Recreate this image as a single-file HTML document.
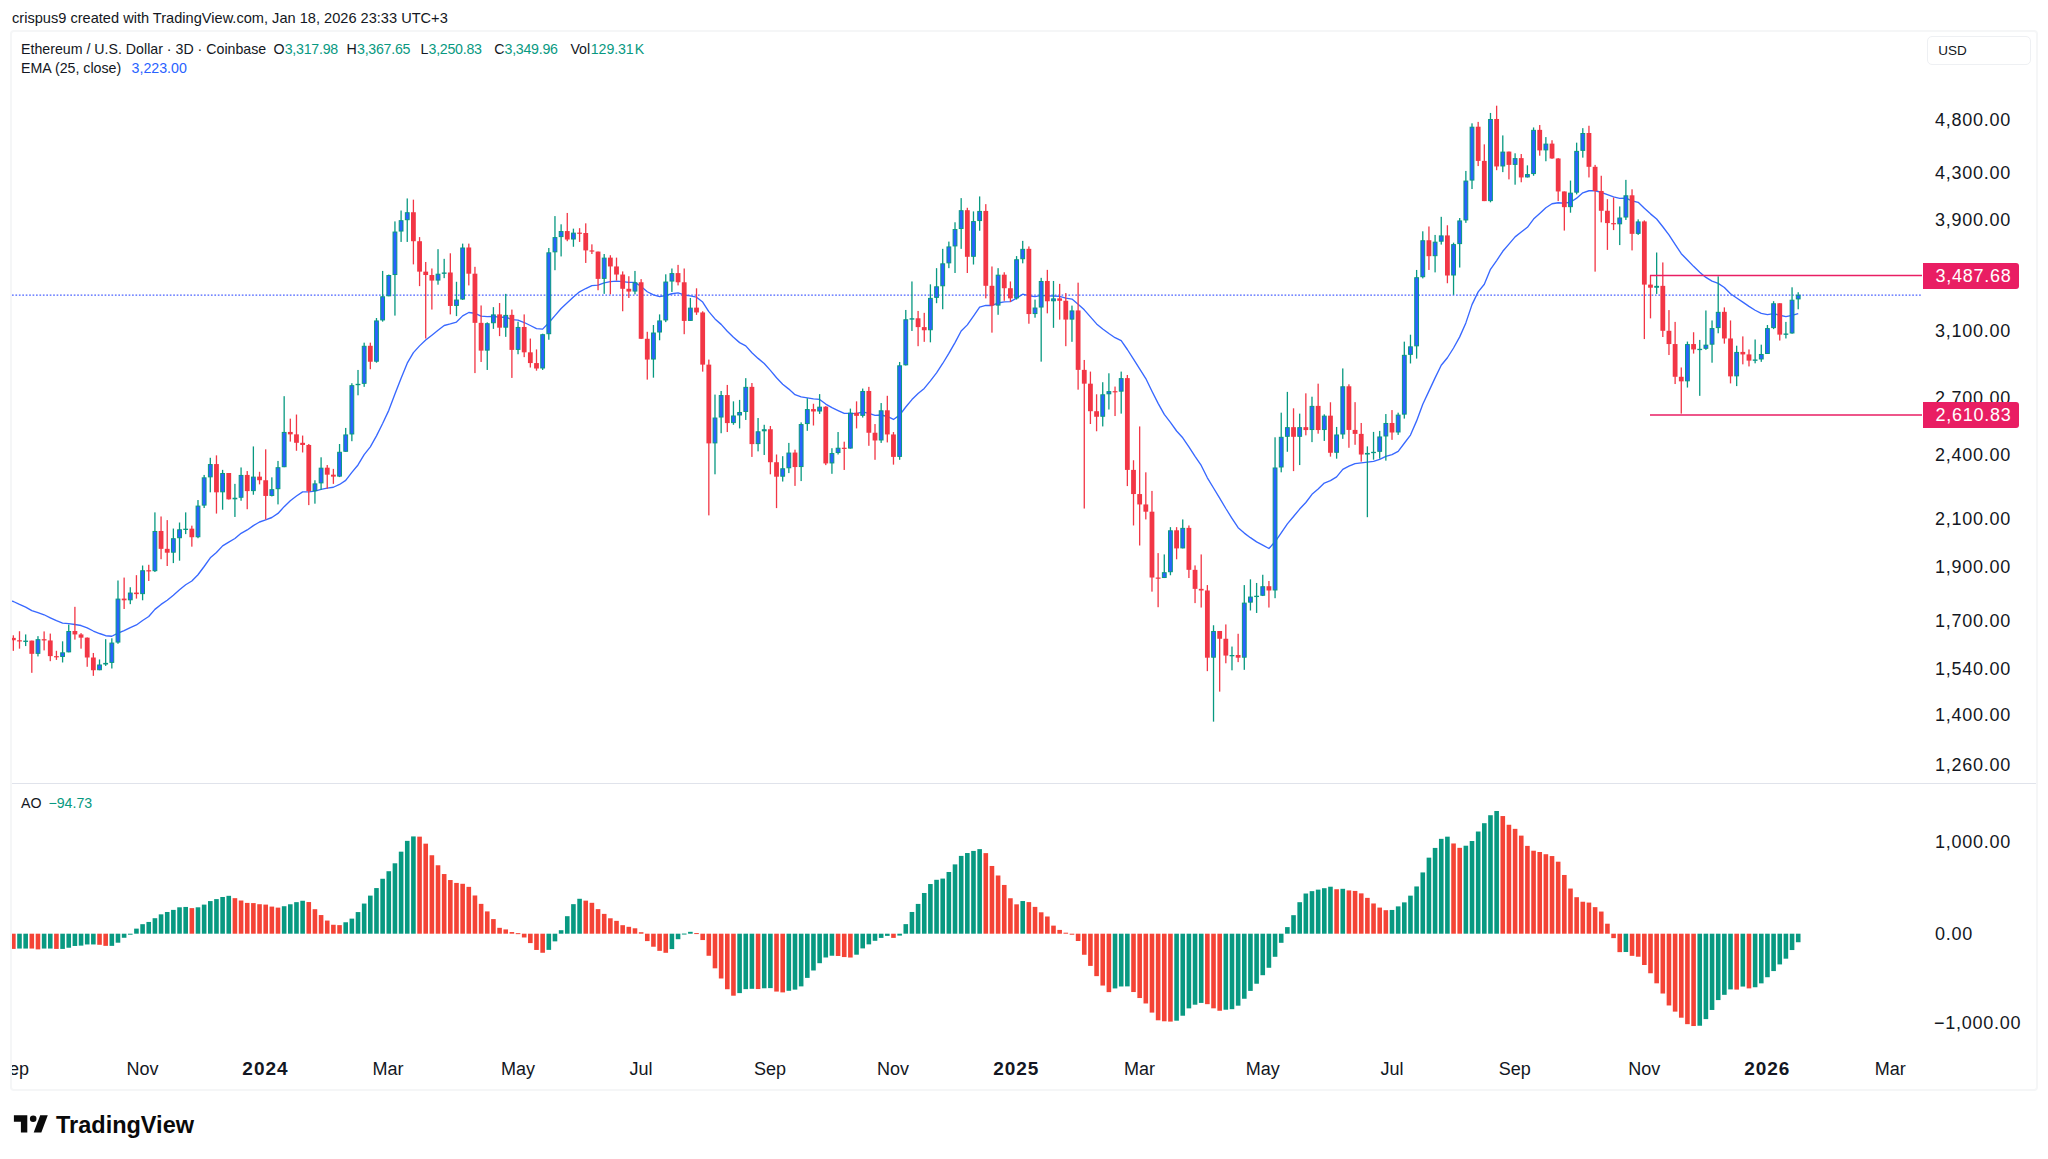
<!DOCTYPE html>
<html><head><meta charset="utf-8">
<style>
html,body{margin:0;padding:0;background:#fff;}
body{width:2048px;height:1159px;overflow:hidden;position:relative;font-family:"Liberation Sans",sans-serif;color:#131722;}
.a{position:absolute;white-space:nowrap;}
.hdr{left:12px;top:9px;font-size:14.6px;line-height:18px;color:#131722;}
.frame{left:10px;top:29.8px;width:2023.5px;height:1057px;border:2px solid #f5f6f7;border-radius:4px;box-sizing:content-box;}
.leg{left:21px;font-size:14.2px;line-height:18px;color:#131722;}
.leg .g{color:#089981;}
.leg .b{color:#2962FF;}
.usd{left:1927px;top:36.3px;width:104px;height:29px;border:1px solid #eef0f3;border-radius:5px;box-sizing:border-box;font-size:13.5px;line-height:27px;padding-left:10.3px;color:#131722;}
.pl{left:1935px;font-size:18px;line-height:20px;letter-spacing:0.75px;color:#131722;}
.tl{font-size:18px;line-height:20px;top:1059.4px;color:#131722;transform:translateX(-50%);}
.tl.y{font-weight:bold;font-size:19px;letter-spacing:1px;}
.lbl{left:1923px;width:96px;height:26px;background:#E91E63;color:#fff;border-radius:0 3px 3px 0;font-size:18px;line-height:26px;letter-spacing:0.75px;padding-left:12.5px;box-sizing:border-box;}
.sep{left:12px;top:782.7px;width:2024px;height:1px;background:#e0e3eb;}
.tclip{left:12px;top:1050px;width:1910px;height:36px;overflow:hidden;}
</style></head>
<body>
<div class="a hdr">crispus9 created with TradingView.com, Jan 18, 2026 23:33 UTC+3</div>
<div class="a frame"></div>

<svg class="a" style="left:0;top:0" width="2048" height="1159" viewBox="0 0 2048 1159">
<defs>
<clipPath id="cm"><rect x="12" y="32" width="1910" height="751"/></clipPath>
<clipPath id="ca"><rect x="12" y="785" width="1910" height="265"/></clipPath>
</defs>
<g clip-path="url(#cm)">
<line x1="12" y1="295.1" x2="1921" y2="295.1" stroke="#4a62ff" stroke-width="1.3" stroke-dasharray="1.7 1.73"/>
<polyline points="11,600.8 13.35,601.5 19.5,604.42 25.66,607.11 31.81,610.55 37.97,612.69 44.12,614.77 50.28,617.83 56.43,620.73 62.59,623.09 68.74,623.69 74.9,624.51 81.05,625.51 87.21,627.89 93.36,631.02 99.52,633.51 105.67,635.71 111.83,636.24 117.98,633.23 124.13,630.62 130.29,627.58 136.44,624.93 142.6,620.49 148.75,616.51 154.91,609.37 161.06,604.43 167.22,600.25 173.37,595.18 179.53,589.78 185.68,584.79 191.84,580.97 197.99,574.73 204.15,566.5 210.3,557.8 216.46,552.44 222.61,545.84 228.76,542.1 234.92,538.54 241.07,533.33 247.23,529.95 253.38,525.63 259.54,521.99 265.69,519.93 271.85,517.5 278,513.43 284.16,506.65 290.31,500.69 296.47,495.98 302.62,491.86 308.78,491.8 314.93,491.15 321.09,489.3 327.24,488.16 333.39,487.26 339.55,484.44 345.7,480.41 351.86,472.37 358.01,464.96 364.17,454.67 370.32,446.85 376.48,435.86 382.63,423.56 388.79,410.36 394.94,393.99 401.1,378.16 407.25,363.16 413.41,352.6 419.56,345.87 425.71,340.04 431.87,335.19 438.02,330.17 444.18,325.48 450.33,323.95 456.49,322.03 462.64,315.87 468.8,312.49 474.95,313.28 481.11,316.05 487.26,316.6 493.42,316.43 499.57,317.28 505.73,317.1 511.88,319.55 518.04,320.11 524.19,322.51 530.34,325.51 536.5,328.69 542.65,329.11 548.81,322.75 554.96,315.59 561.12,308.54 567.27,302.86 573.43,297.08 579.58,291.84 585.74,288.52 591.89,285.58 598.05,285.06 604.2,282.89 610.36,281.61 616.51,281.06 622.67,281.65 628.82,282.41 634.97,282.4 641.13,286.51 647.28,291.75 653.44,294.77 659.59,296.69 665.75,295.51 671.9,293.75 678.06,292.86 684.21,294.96 690.37,295.92 696.52,297.17 702.68,302.04 708.83,311.56 714.99,318.93 721.14,324.38 727.3,331.3 733.45,337.28 739.6,342.63 745.76,345.89 751.91,352.78 758.07,358.38 764.22,363.48 770.38,370.4 776.53,377.79 782.69,384.18 788.84,389.11 795,394.68 801.15,396.88 807.31,397.8 813.46,398.84 819.62,399.44 825.77,404.07 831.93,407.67 838.08,410.63 844.23,413.45 850.39,413.39 856.54,413.58 862.7,411.8 868.85,413.38 875.01,415.41 881.16,415.02 887.32,416.48 893.47,419.48 899.63,415.09 905.78,407 911.94,399.57 918.09,393.59 924.25,388.41 930.4,380.81 936.56,372.84 942.71,363.48 948.86,353.39 955.02,342.6 961.17,331.02 967.33,324.89 973.48,316.06 979.64,307.11 985.79,305.43 991.95,305.45 998.1,303.01 1004.26,301.85 1010.41,301.58 1016.57,298.19 1022.72,294.21 1028.88,295.71 1035.03,296.61 1041.18,295.39 1047.34,295.84 1053.49,296.03 1059.65,296.39 1065.8,298.14 1071.96,299.07 1078.11,304.17 1084.27,309.84 1090.42,316.92 1096.58,323.91 1102.73,328.97 1108.89,333.48 1115.04,337.72 1121.2,340.71 1127.35,349.51 1133.51,359.21 1139.66,368.95 1145.81,378.55 1151.97,391.26 1158.12,403.32 1164.28,414.41 1170.43,422.4 1176.59,431.01 1182.74,437.8 1188.9,446.77 1195.05,456.33 1201.21,465.43 1207.36,477.78 1213.52,487.99 1219.67,498.05 1225.83,508.5 1231.98,518.32 1238.14,527.72 1244.29,533.09 1250.44,537.68 1256.6,541.91 1262.75,545.18 1268.91,548.52 1275.06,541.78 1281.22,532.84 1287.37,523.83 1293.53,516.55 1299.68,509.06 1305.84,502.5 1311.99,494.34 1318.15,489.08 1324.3,483.02 1330.46,480.62 1336.61,476.91 1342.77,469.3 1348.92,466.16 1355.07,463.6 1361.23,462.89 1367.38,462.12 1373.54,461.32 1379.69,459.36 1385.85,456.46 1392,454.58 1398.16,451.38 1404.31,443.23 1410.47,435.05 1416.62,420.89 1422.78,404.32 1428.93,391.16 1435.09,377.87 1441.24,365.29 1447.4,357.76 1453.55,348 1459.7,336.89 1465.86,322.9 1472.01,304.62 1478.17,291.91 1484.32,284.29 1490.48,269.36 1496.63,260.61 1502.79,251.29 1508.94,244.07 1515.1,236.88 1521.25,232.04 1527.41,227.33 1533.56,219.09 1539.72,213.44 1545.87,207.7 1552.02,203.73 1558.18,202.77 1564.33,203.11 1570.49,202.29 1576.64,198.14 1582.8,192.8 1588.95,190.75 1595.11,190.77 1601.26,192.28 1607.42,194.58 1613.57,196.8 1619.73,198.37 1625.88,198.13 1632.04,200.79 1638.19,202.34 1644.35,208.2 1650.5,213.87 1656.65,219.04 1662.81,226.77 1668.96,234.85 1675.12,244.4 1681.27,253.66 1687.43,260.04 1693.58,266.36 1699.74,272.23 1705.89,277.43 1712.05,281.14 1718.2,283.44 1724.36,287.45 1730.51,293.74 1736.67,297.97 1742.82,302.09 1748.98,306.35 1755.13,310.23 1761.28,313.46 1767.44,314.57 1773.59,313.69 1779.75,315.27 1785.9,316.65 1792.06,315.32 1798.21,313.71" fill="none" stroke="#3868ff" stroke-width="1.35" stroke-linejoin="round"/>
<rect x="12.7" y="635.29" width="1.3" height="15.53" fill="#F23645"/>
<rect x="10.95" y="637.88" width="4.8" height="2.37" fill="#F23645"/>
<rect x="18.85" y="631.24" width="1.3" height="17.43" fill="#F23645"/>
<rect x="17.1" y="640.25" width="4.8" height="1.2" fill="#F23645"/>
<rect x="25.01" y="634.43" width="1.3" height="11.65" fill="#089981"/>
<rect x="23.76" y="641.1" width="3.8" height="0.3" fill="#2962FF" stroke="#089981" stroke-width="1"/>
<rect x="31.16" y="640.6" width="1.3" height="32.22" fill="#F23645"/>
<rect x="29.41" y="640.6" width="4.8" height="13.24" fill="#F23645"/>
<rect x="37.32" y="636.15" width="1.3" height="20.27" fill="#089981"/>
<rect x="36.07" y="639.67" width="3.8" height="13.67" fill="#2962FF" stroke="#089981" stroke-width="1"/>
<rect x="43.47" y="631.41" width="1.3" height="18.98" fill="#F23645"/>
<rect x="41.72" y="639.17" width="4.8" height="1.29" fill="#F23645"/>
<rect x="49.63" y="633.57" width="1.3" height="27.61" fill="#F23645"/>
<rect x="47.88" y="640.47" width="4.8" height="15.66" fill="#F23645"/>
<rect x="55.78" y="650.82" width="1.3" height="9.06" fill="#F23645"/>
<rect x="54.03" y="656.13" width="4.8" height="1.2" fill="#F23645"/>
<rect x="61.94" y="641.33" width="1.3" height="21.14" fill="#089981"/>
<rect x="60.69" y="652.83" width="3.8" height="3.62" fill="#2962FF" stroke="#089981" stroke-width="1"/>
<rect x="68.09" y="624.51" width="1.3" height="27.82" fill="#089981"/>
<rect x="66.84" y="631.48" width="3.8" height="20.35" fill="#2962FF" stroke="#089981" stroke-width="1"/>
<rect x="74.25" y="606.82" width="1.3" height="32.78" fill="#F23645"/>
<rect x="72.5" y="630.98" width="4.8" height="3.45" fill="#F23645"/>
<rect x="80.4" y="633.13" width="1.3" height="15.53" fill="#F23645"/>
<rect x="78.65" y="634.43" width="4.8" height="3.24" fill="#F23645"/>
<rect x="86.56" y="637.45" width="1.3" height="29.33" fill="#F23645"/>
<rect x="84.81" y="637.66" width="4.8" height="19.84" fill="#F23645"/>
<rect x="92.71" y="652.98" width="1.3" height="22.86" fill="#F23645"/>
<rect x="90.96" y="657.51" width="4.8" height="12.72" fill="#F23645"/>
<rect x="98.87" y="659.45" width="1.3" height="10.78" fill="#089981"/>
<rect x="97.62" y="664.99" width="3.8" height="4.74" fill="#2962FF" stroke="#089981" stroke-width="1"/>
<rect x="105.02" y="639.17" width="1.3" height="26.74" fill="#089981"/>
<rect x="103.77" y="663.4" width="3.8" height="0.6" fill="#2962FF" stroke="#089981" stroke-width="1"/>
<rect x="111.18" y="638.31" width="1.3" height="30.19" fill="#089981"/>
<rect x="109.93" y="643.07" width="3.8" height="19.33" fill="#2962FF" stroke="#089981" stroke-width="1"/>
<rect x="117.33" y="580.48" width="1.3" height="63.29" fill="#089981"/>
<rect x="116.08" y="599.1" width="3.8" height="42.97" fill="#2962FF" stroke="#089981" stroke-width="1"/>
<rect x="123.48" y="577.58" width="1.3" height="31.4" fill="#F23645"/>
<rect x="121.73" y="598.6" width="4.8" height="1.69" fill="#F23645"/>
<rect x="129.64" y="587.25" width="1.3" height="16.91" fill="#089981"/>
<rect x="128.39" y="593.06" width="3.8" height="6.73" fill="#2962FF" stroke="#089981" stroke-width="1"/>
<rect x="135.79" y="575.17" width="1.3" height="23.43" fill="#F23645"/>
<rect x="134.04" y="592.56" width="4.8" height="1.57" fill="#F23645"/>
<rect x="141.95" y="565.51" width="1.3" height="34.78" fill="#089981"/>
<rect x="140.7" y="570.72" width="3.8" height="22.91" fill="#2962FF" stroke="#089981" stroke-width="1"/>
<rect x="148.1" y="564.78" width="1.3" height="16.18" fill="#F23645"/>
<rect x="146.35" y="570.22" width="4.8" height="1.2" fill="#F23645"/>
<rect x="154.26" y="512.37" width="1.3" height="59.66" fill="#089981"/>
<rect x="153.01" y="531.47" width="3.8" height="39.22" fill="#2962FF" stroke="#089981" stroke-width="1"/>
<rect x="160.41" y="516.47" width="1.3" height="42.75" fill="#F23645"/>
<rect x="158.66" y="530.97" width="4.8" height="17.87" fill="#F23645"/>
<rect x="166.57" y="520.1" width="1.3" height="45.89" fill="#F23645"/>
<rect x="164.82" y="548.84" width="4.8" height="3.86" fill="#F23645"/>
<rect x="172.72" y="528.55" width="1.3" height="34.54" fill="#089981"/>
<rect x="171.47" y="538.71" width="3.8" height="13.49" fill="#2962FF" stroke="#089981" stroke-width="1"/>
<rect x="178.88" y="522.51" width="1.3" height="38.16" fill="#089981"/>
<rect x="177.63" y="529.78" width="3.8" height="7.94" fill="#2962FF" stroke="#089981" stroke-width="1"/>
<rect x="185.03" y="512.37" width="1.3" height="21.74" fill="#089981"/>
<rect x="183.78" y="529.17" width="3.8" height="0.3" fill="#2962FF" stroke="#089981" stroke-width="1"/>
<rect x="191.19" y="525.65" width="1.3" height="21.01" fill="#F23645"/>
<rect x="189.44" y="528.67" width="4.8" height="8.57" fill="#F23645"/>
<rect x="197.34" y="500.05" width="1.3" height="38.16" fill="#089981"/>
<rect x="196.09" y="506.1" width="3.8" height="30.64" fill="#2962FF" stroke="#089981" stroke-width="1"/>
<rect x="203.5" y="474.93" width="1.3" height="33.09" fill="#089981"/>
<rect x="202.25" y="477.84" width="3.8" height="27.26" fill="#2962FF" stroke="#089981" stroke-width="1"/>
<rect x="209.65" y="457.78" width="1.3" height="34.54" fill="#089981"/>
<rect x="208.4" y="464.56" width="3.8" height="12.29" fill="#2962FF" stroke="#089981" stroke-width="1"/>
<rect x="215.81" y="455.36" width="1.3" height="58.21" fill="#F23645"/>
<rect x="214.06" y="464.06" width="4.8" height="28.26" fill="#F23645"/>
<rect x="221.96" y="469.86" width="1.3" height="39.86" fill="#089981"/>
<rect x="220.71" y="473.5" width="3.8" height="18.32" fill="#2962FF" stroke="#089981" stroke-width="1"/>
<rect x="228.11" y="473" width="1.3" height="26.57" fill="#F23645"/>
<rect x="226.36" y="473" width="4.8" height="26.33" fill="#F23645"/>
<rect x="234.27" y="483.86" width="1.3" height="33.09" fill="#089981"/>
<rect x="233.02" y="498.25" width="3.8" height="0.57" fill="#2962FF" stroke="#089981" stroke-width="1"/>
<rect x="240.42" y="467.44" width="1.3" height="33.33" fill="#089981"/>
<rect x="239.17" y="475.43" width="3.8" height="21.83" fill="#2962FF" stroke="#089981" stroke-width="1"/>
<rect x="246.58" y="471.06" width="1.3" height="38.16" fill="#F23645"/>
<rect x="244.83" y="474.93" width="4.8" height="16.18" fill="#F23645"/>
<rect x="252.73" y="446.43" width="1.3" height="48.31" fill="#089981"/>
<rect x="251.48" y="477.12" width="3.8" height="13.49" fill="#2962FF" stroke="#089981" stroke-width="1"/>
<rect x="258.89" y="471.79" width="1.3" height="12.56" fill="#F23645"/>
<rect x="257.14" y="476.62" width="4.8" height="3.62" fill="#F23645"/>
<rect x="265.04" y="449.32" width="1.3" height="70.29" fill="#F23645"/>
<rect x="263.29" y="480.24" width="4.8" height="15.7" fill="#F23645"/>
<rect x="271.2" y="477.34" width="1.3" height="19.08" fill="#089981"/>
<rect x="269.95" y="489.68" width="3.8" height="5.76" fill="#2962FF" stroke="#089981" stroke-width="1"/>
<rect x="277.35" y="460.92" width="1.3" height="43.48" fill="#089981"/>
<rect x="276.1" y="467.7" width="3.8" height="20.98" fill="#2962FF" stroke="#089981" stroke-width="1"/>
<rect x="283.51" y="396.18" width="1.3" height="71.01" fill="#089981"/>
<rect x="282.26" y="432.43" width="3.8" height="34.27" fill="#2962FF" stroke="#089981" stroke-width="1"/>
<rect x="289.66" y="418.65" width="1.3" height="22.95" fill="#F23645"/>
<rect x="287.91" y="431.93" width="4.8" height="2.42" fill="#F23645"/>
<rect x="295.82" y="414.54" width="1.3" height="36.23" fill="#F23645"/>
<rect x="294.07" y="434.35" width="4.8" height="8.45" fill="#F23645"/>
<rect x="301.97" y="435.56" width="1.3" height="16.91" fill="#F23645"/>
<rect x="300.22" y="442.8" width="4.8" height="2.17" fill="#F23645"/>
<rect x="308.13" y="444.01" width="1.3" height="61.11" fill="#F23645"/>
<rect x="306.38" y="444.98" width="4.8" height="46.14" fill="#F23645"/>
<rect x="314.28" y="480.24" width="1.3" height="23.43" fill="#089981"/>
<rect x="313.03" y="483.88" width="3.8" height="6.73" fill="#2962FF" stroke="#089981" stroke-width="1"/>
<rect x="320.44" y="457.29" width="1.3" height="32.61" fill="#089981"/>
<rect x="319.19" y="468.18" width="3.8" height="14.7" fill="#2962FF" stroke="#089981" stroke-width="1"/>
<rect x="326.59" y="465.02" width="1.3" height="23.67" fill="#F23645"/>
<rect x="324.84" y="467.68" width="4.8" height="7" fill="#F23645"/>
<rect x="332.74" y="468.89" width="1.3" height="14.98" fill="#F23645"/>
<rect x="330.99" y="474.69" width="4.8" height="1.93" fill="#F23645"/>
<rect x="338.9" y="444.01" width="1.3" height="33.09" fill="#089981"/>
<rect x="337.65" y="452.29" width="3.8" height="23.83" fill="#2962FF" stroke="#089981" stroke-width="1"/>
<rect x="345.05" y="427.92" width="1.3" height="23.86" fill="#089981"/>
<rect x="343.8" y="434.94" width="3.8" height="16.34" fill="#2962FF" stroke="#089981" stroke-width="1"/>
<rect x="351.21" y="383.24" width="1.3" height="57.97" fill="#089981"/>
<rect x="349.96" y="385.67" width="3.8" height="48.28" fill="#2962FF" stroke="#089981" stroke-width="1"/>
<rect x="357.36" y="369.95" width="1.3" height="25.36" fill="#089981"/>
<rect x="356.11" y="384.34" width="3.8" height="0.33" fill="#2962FF" stroke="#089981" stroke-width="1"/>
<rect x="363.52" y="342.66" width="1.3" height="44.2" fill="#089981"/>
<rect x="362.27" y="346.3" width="3.8" height="37.04" fill="#2962FF" stroke="#089981" stroke-width="1"/>
<rect x="369.67" y="342.66" width="1.3" height="26.57" fill="#F23645"/>
<rect x="367.92" y="345.8" width="4.8" height="15.94" fill="#F23645"/>
<rect x="375.83" y="318.02" width="1.3" height="44.69" fill="#089981"/>
<rect x="374.58" y="320.93" width="3.8" height="40.3" fill="#2962FF" stroke="#089981" stroke-width="1"/>
<rect x="381.98" y="270.92" width="1.3" height="50.72" fill="#089981"/>
<rect x="380.73" y="296.78" width="3.8" height="23.15" fill="#2962FF" stroke="#089981" stroke-width="1"/>
<rect x="388.14" y="274.54" width="1.3" height="21.74" fill="#089981"/>
<rect x="386.89" y="275.52" width="3.8" height="20.26" fill="#2962FF" stroke="#089981" stroke-width="1"/>
<rect x="394.29" y="221.4" width="1.3" height="94.2" fill="#089981"/>
<rect x="393.04" y="232.05" width="3.8" height="42.48" fill="#2962FF" stroke="#089981" stroke-width="1"/>
<rect x="400.45" y="210.53" width="1.3" height="31.4" fill="#089981"/>
<rect x="399.2" y="220.69" width="3.8" height="10.35" fill="#2962FF" stroke="#089981" stroke-width="1"/>
<rect x="406.6" y="198.45" width="1.3" height="43.48" fill="#089981"/>
<rect x="405.35" y="212.72" width="3.8" height="6.97" fill="#2962FF" stroke="#089981" stroke-width="1"/>
<rect x="412.76" y="199.66" width="1.3" height="64.73" fill="#F23645"/>
<rect x="411.01" y="212.22" width="4.8" height="28.99" fill="#F23645"/>
<rect x="418.91" y="237.1" width="1.3" height="49.03" fill="#F23645"/>
<rect x="417.16" y="241.21" width="4.8" height="30.43" fill="#F23645"/>
<rect x="425.06" y="261.98" width="1.3" height="76.57" fill="#F23645"/>
<rect x="423.31" y="271.64" width="4.8" height="3.38" fill="#F23645"/>
<rect x="431.22" y="268.5" width="1.3" height="41.06" fill="#F23645"/>
<rect x="429.47" y="275.02" width="4.8" height="5.56" fill="#F23645"/>
<rect x="437.37" y="249.18" width="1.3" height="35.51" fill="#089981"/>
<rect x="436.12" y="274.2" width="3.8" height="5.88" fill="#2962FF" stroke="#089981" stroke-width="1"/>
<rect x="443.53" y="258.84" width="1.3" height="19.32" fill="#089981"/>
<rect x="442.28" y="272.99" width="3.8" height="0.3" fill="#2962FF" stroke="#089981" stroke-width="1"/>
<rect x="449.68" y="253.29" width="1.3" height="61.11" fill="#F23645"/>
<rect x="447.93" y="272.49" width="4.8" height="33.45" fill="#F23645"/>
<rect x="455.84" y="281.79" width="1.3" height="34.3" fill="#089981"/>
<rect x="454.59" y="300.04" width="3.8" height="5.4" fill="#2962FF" stroke="#089981" stroke-width="1"/>
<rect x="461.99" y="243.62" width="1.3" height="56.28" fill="#089981"/>
<rect x="460.74" y="247.99" width="3.8" height="51.05" fill="#2962FF" stroke="#089981" stroke-width="1"/>
<rect x="468.15" y="243.62" width="1.3" height="41.79" fill="#F23645"/>
<rect x="466.4" y="247.49" width="4.8" height="26.21" fill="#F23645"/>
<rect x="474.3" y="266.81" width="1.3" height="106.28" fill="#F23645"/>
<rect x="472.55" y="273.7" width="4.8" height="49.15" fill="#F23645"/>
<rect x="480.46" y="305.46" width="1.3" height="56.52" fill="#F23645"/>
<rect x="478.71" y="322.85" width="4.8" height="27.78" fill="#F23645"/>
<rect x="486.61" y="322.37" width="1.3" height="47.58" fill="#089981"/>
<rect x="485.36" y="323.71" width="3.8" height="26.42" fill="#2962FF" stroke="#089981" stroke-width="1"/>
<rect x="492.77" y="307.15" width="1.3" height="21.74" fill="#089981"/>
<rect x="491.52" y="314.9" width="3.8" height="7.82" fill="#2962FF" stroke="#089981" stroke-width="1"/>
<rect x="498.92" y="303.04" width="1.3" height="33.09" fill="#F23645"/>
<rect x="497.17" y="314.4" width="4.8" height="13.29" fill="#F23645"/>
<rect x="505.08" y="293.86" width="1.3" height="43" fill="#089981"/>
<rect x="503.83" y="315.38" width="3.8" height="11.8" fill="#2962FF" stroke="#089981" stroke-width="1"/>
<rect x="511.23" y="309.57" width="1.3" height="68.36" fill="#F23645"/>
<rect x="509.48" y="314.88" width="4.8" height="35.02" fill="#F23645"/>
<rect x="517.39" y="321.64" width="1.3" height="32.61" fill="#089981"/>
<rect x="516.14" y="327.46" width="3.8" height="21.95" fill="#2962FF" stroke="#089981" stroke-width="1"/>
<rect x="523.54" y="314.4" width="1.3" height="42.75" fill="#F23645"/>
<rect x="521.79" y="326.96" width="4.8" height="25.36" fill="#F23645"/>
<rect x="529.69" y="338.55" width="1.3" height="28.99" fill="#F23645"/>
<rect x="527.94" y="352.32" width="4.8" height="10.75" fill="#F23645"/>
<rect x="535.85" y="349.42" width="1.3" height="21.26" fill="#F23645"/>
<rect x="534.1" y="363.07" width="4.8" height="5.43" fill="#F23645"/>
<rect x="542" y="333.72" width="1.3" height="36.23" fill="#089981"/>
<rect x="540.75" y="334.7" width="3.8" height="33.3" fill="#2962FF" stroke="#089981" stroke-width="1"/>
<rect x="548.16" y="247.97" width="1.3" height="91.79" fill="#089981"/>
<rect x="546.91" y="252.82" width="3.8" height="80.88" fill="#2962FF" stroke="#089981" stroke-width="1"/>
<rect x="554.31" y="216.09" width="1.3" height="54.11" fill="#089981"/>
<rect x="553.06" y="237.6" width="3.8" height="14.22" fill="#2962FF" stroke="#089981" stroke-width="1"/>
<rect x="560.47" y="224.3" width="1.3" height="32.13" fill="#089981"/>
<rect x="559.22" y="231.56" width="3.8" height="5.04" fill="#2962FF" stroke="#089981" stroke-width="1"/>
<rect x="566.62" y="212.95" width="1.3" height="28.26" fill="#F23645"/>
<rect x="564.87" y="231.06" width="4.8" height="8.45" fill="#F23645"/>
<rect x="572.78" y="228.65" width="1.3" height="18.12" fill="#089981"/>
<rect x="571.53" y="233.13" width="3.8" height="5.88" fill="#2962FF" stroke="#089981" stroke-width="1"/>
<rect x="578.93" y="228.16" width="1.3" height="13.77" fill="#F23645"/>
<rect x="577.18" y="232.63" width="4.8" height="1.2" fill="#F23645"/>
<rect x="585.09" y="223.33" width="1.3" height="39.61" fill="#F23645"/>
<rect x="583.34" y="233" width="4.8" height="17.39" fill="#F23645"/>
<rect x="591.24" y="244.35" width="1.3" height="9.66" fill="#F23645"/>
<rect x="589.49" y="250.39" width="4.8" height="1.21" fill="#F23645"/>
<rect x="597.4" y="251.59" width="1.3" height="38.65" fill="#F23645"/>
<rect x="595.65" y="251.59" width="4.8" height="27.29" fill="#F23645"/>
<rect x="603.55" y="254.01" width="1.3" height="39.86" fill="#089981"/>
<rect x="602.3" y="258.13" width="3.8" height="20.26" fill="#2962FF" stroke="#089981" stroke-width="1"/>
<rect x="609.71" y="255.22" width="1.3" height="39.13" fill="#F23645"/>
<rect x="607.96" y="257.63" width="4.8" height="8.82" fill="#F23645"/>
<rect x="615.86" y="257.63" width="1.3" height="22.95" fill="#F23645"/>
<rect x="614.11" y="266.45" width="4.8" height="8.09" fill="#F23645"/>
<rect x="622.02" y="271.4" width="1.3" height="39.86" fill="#F23645"/>
<rect x="620.27" y="274.54" width="4.8" height="14.25" fill="#F23645"/>
<rect x="628.17" y="276.23" width="1.3" height="21.74" fill="#F23645"/>
<rect x="626.42" y="288.79" width="4.8" height="2.78" fill="#F23645"/>
<rect x="634.32" y="270.92" width="1.3" height="23.43" fill="#089981"/>
<rect x="633.07" y="282.77" width="3.8" height="8.3" fill="#2962FF" stroke="#089981" stroke-width="1"/>
<rect x="640.48" y="279.13" width="1.3" height="59.9" fill="#F23645"/>
<rect x="638.73" y="282.27" width="4.8" height="56.52" fill="#F23645"/>
<rect x="646.63" y="331.79" width="1.3" height="47.83" fill="#F23645"/>
<rect x="644.88" y="338.79" width="4.8" height="20.77" fill="#F23645"/>
<rect x="652.79" y="325.02" width="1.3" height="52.66" fill="#089981"/>
<rect x="651.54" y="333.01" width="3.8" height="26.05" fill="#2962FF" stroke="#089981" stroke-width="1"/>
<rect x="658.94" y="314.4" width="1.3" height="25.85" fill="#089981"/>
<rect x="657.69" y="320.93" width="3.8" height="11.08" fill="#2962FF" stroke="#089981" stroke-width="1"/>
<rect x="665.1" y="274.3" width="1.3" height="47.83" fill="#089981"/>
<rect x="663.85" y="282.05" width="3.8" height="37.89" fill="#2962FF" stroke="#089981" stroke-width="1"/>
<rect x="671.25" y="268.5" width="1.3" height="23.43" fill="#089981"/>
<rect x="670" y="273.59" width="3.8" height="7.45" fill="#2962FF" stroke="#089981" stroke-width="1"/>
<rect x="677.41" y="264.88" width="1.3" height="20.53" fill="#F23645"/>
<rect x="675.66" y="273.09" width="4.8" height="9.18" fill="#F23645"/>
<rect x="683.56" y="268.5" width="1.3" height="65.7" fill="#F23645"/>
<rect x="681.81" y="282.27" width="4.8" height="38.65" fill="#F23645"/>
<rect x="689.72" y="297.97" width="1.3" height="22.95" fill="#089981"/>
<rect x="688.47" y="308.13" width="3.8" height="12.29" fill="#2962FF" stroke="#089981" stroke-width="1"/>
<rect x="695.87" y="288.31" width="1.3" height="26.57" fill="#F23645"/>
<rect x="694.12" y="307.63" width="4.8" height="4.83" fill="#F23645"/>
<rect x="702.03" y="311.26" width="1.3" height="60.39" fill="#F23645"/>
<rect x="700.28" y="312.46" width="4.8" height="52.17" fill="#F23645"/>
<rect x="708.18" y="359.57" width="1.3" height="155.8" fill="#F23645"/>
<rect x="706.43" y="364.64" width="4.8" height="78.74" fill="#F23645"/>
<rect x="714.34" y="394.59" width="1.3" height="79.71" fill="#089981"/>
<rect x="713.09" y="418.04" width="3.8" height="24.85" fill="#2962FF" stroke="#089981" stroke-width="1"/>
<rect x="720.49" y="390.97" width="1.3" height="42.27" fill="#089981"/>
<rect x="719.24" y="395.57" width="3.8" height="21.46" fill="#2962FF" stroke="#089981" stroke-width="1"/>
<rect x="726.65" y="384.93" width="1.3" height="47.1" fill="#F23645"/>
<rect x="724.9" y="395.07" width="4.8" height="28.02" fill="#F23645"/>
<rect x="732.8" y="401.35" width="1.3" height="23.43" fill="#089981"/>
<rect x="731.55" y="415.98" width="3.8" height="6.61" fill="#2962FF" stroke="#089981" stroke-width="1"/>
<rect x="738.95" y="399.9" width="1.3" height="28.5" fill="#089981"/>
<rect x="737.7" y="412.48" width="3.8" height="2.5" fill="#2962FF" stroke="#089981" stroke-width="1"/>
<rect x="745.11" y="378.16" width="1.3" height="41.79" fill="#089981"/>
<rect x="743.86" y="387.36" width="3.8" height="24.12" fill="#2962FF" stroke="#089981" stroke-width="1"/>
<rect x="751.26" y="383" width="1.3" height="73.91" fill="#F23645"/>
<rect x="749.51" y="386.86" width="4.8" height="57.25" fill="#F23645"/>
<rect x="757.42" y="418.02" width="1.3" height="33.33" fill="#089981"/>
<rect x="756.17" y="431.8" width="3.8" height="11.8" fill="#2962FF" stroke="#089981" stroke-width="1"/>
<rect x="763.57" y="424.78" width="1.3" height="30.19" fill="#089981"/>
<rect x="762.32" y="429.75" width="3.8" height="1.05" fill="#2962FF" stroke="#089981" stroke-width="1"/>
<rect x="769.73" y="425.99" width="1.3" height="48.31" fill="#F23645"/>
<rect x="767.98" y="429.25" width="4.8" height="32.97" fill="#F23645"/>
<rect x="775.88" y="454.49" width="1.3" height="53.62" fill="#F23645"/>
<rect x="774.13" y="462.22" width="4.8" height="14.49" fill="#F23645"/>
<rect x="782.04" y="456.18" width="1.3" height="25.36" fill="#089981"/>
<rect x="780.79" y="468.76" width="3.8" height="7.45" fill="#2962FF" stroke="#089981" stroke-width="1"/>
<rect x="788.19" y="442.9" width="1.3" height="30.19" fill="#089981"/>
<rect x="786.94" y="453.06" width="3.8" height="14.7" fill="#2962FF" stroke="#089981" stroke-width="1"/>
<rect x="794.35" y="449.66" width="1.3" height="36.23" fill="#F23645"/>
<rect x="792.6" y="452.56" width="4.8" height="14.49" fill="#F23645"/>
<rect x="800.5" y="422.37" width="1.3" height="58.7" fill="#089981"/>
<rect x="799.25" y="424.56" width="3.8" height="42" fill="#2962FF" stroke="#089981" stroke-width="1"/>
<rect x="806.66" y="398.21" width="1.3" height="32.61" fill="#089981"/>
<rect x="805.41" y="409.58" width="3.8" height="13.98" fill="#2962FF" stroke="#089981" stroke-width="1"/>
<rect x="812.81" y="403.77" width="1.3" height="21.74" fill="#F23645"/>
<rect x="811.06" y="409.08" width="4.8" height="2.42" fill="#F23645"/>
<rect x="818.97" y="394.11" width="1.3" height="19.81" fill="#089981"/>
<rect x="817.72" y="407.17" width="3.8" height="3.83" fill="#2962FF" stroke="#089981" stroke-width="1"/>
<rect x="825.12" y="406.18" width="1.3" height="58.94" fill="#F23645"/>
<rect x="823.37" y="406.67" width="4.8" height="56.76" fill="#F23645"/>
<rect x="831.28" y="448.21" width="1.3" height="25.6" fill="#089981"/>
<rect x="830.03" y="453.54" width="3.8" height="9.39" fill="#2962FF" stroke="#089981" stroke-width="1"/>
<rect x="837.43" y="432.03" width="1.3" height="22.46" fill="#089981"/>
<rect x="836.18" y="448.23" width="3.8" height="4.31" fill="#2962FF" stroke="#089981" stroke-width="1"/>
<rect x="843.58" y="441.69" width="1.3" height="28.26" fill="#F23645"/>
<rect x="841.83" y="447.73" width="4.8" height="1.2" fill="#F23645"/>
<rect x="849.74" y="408.6" width="1.3" height="39.98" fill="#089981"/>
<rect x="848.49" y="413.21" width="3.8" height="34.87" fill="#2962FF" stroke="#089981" stroke-width="1"/>
<rect x="855.89" y="401.35" width="1.3" height="27.05" fill="#F23645"/>
<rect x="854.14" y="412.71" width="4.8" height="3.14" fill="#F23645"/>
<rect x="862.05" y="388.55" width="1.3" height="28.99" fill="#089981"/>
<rect x="860.8" y="391.47" width="3.8" height="23.88" fill="#2962FF" stroke="#089981" stroke-width="1"/>
<rect x="868.2" y="386.86" width="1.3" height="58.94" fill="#F23645"/>
<rect x="866.45" y="390.97" width="4.8" height="41.79" fill="#F23645"/>
<rect x="874.36" y="424.06" width="1.3" height="35.75" fill="#F23645"/>
<rect x="872.61" y="432.75" width="4.8" height="7.73" fill="#F23645"/>
<rect x="880.51" y="403.04" width="1.3" height="39.86" fill="#089981"/>
<rect x="879.26" y="410.79" width="3.8" height="29.19" fill="#2962FF" stroke="#089981" stroke-width="1"/>
<rect x="886.67" y="395.8" width="1.3" height="46.62" fill="#F23645"/>
<rect x="884.92" y="410.29" width="4.8" height="24.15" fill="#F23645"/>
<rect x="892.82" y="432.03" width="1.3" height="32.61" fill="#F23645"/>
<rect x="891.07" y="434.44" width="4.8" height="22.46" fill="#F23645"/>
<rect x="898.98" y="361.98" width="1.3" height="97.83" fill="#089981"/>
<rect x="897.73" y="365.81" width="3.8" height="90.59" fill="#2962FF" stroke="#089981" stroke-width="1"/>
<rect x="905.13" y="309.95" width="1.3" height="55.56" fill="#089981"/>
<rect x="903.88" y="319.75" width="3.8" height="45.06" fill="#2962FF" stroke="#089981" stroke-width="1"/>
<rect x="911.29" y="281.45" width="1.3" height="49.52" fill="#089981"/>
<rect x="910.04" y="318.79" width="3.8" height="0.3" fill="#2962FF" stroke="#089981" stroke-width="1"/>
<rect x="917.44" y="310.92" width="1.3" height="35.27" fill="#F23645"/>
<rect x="915.69" y="318.29" width="4.8" height="8.82" fill="#F23645"/>
<rect x="923.6" y="312.85" width="1.3" height="28.99" fill="#F23645"/>
<rect x="921.85" y="327.1" width="4.8" height="3.14" fill="#F23645"/>
<rect x="929.75" y="284.35" width="1.3" height="57.97" fill="#089981"/>
<rect x="928.5" y="298.37" width="3.8" height="31.37" fill="#2962FF" stroke="#089981" stroke-width="1"/>
<rect x="935.91" y="268.16" width="1.3" height="35.02" fill="#089981"/>
<rect x="934.66" y="286.78" width="3.8" height="10.59" fill="#2962FF" stroke="#089981" stroke-width="1"/>
<rect x="942.06" y="248.84" width="1.3" height="60.39" fill="#089981"/>
<rect x="940.81" y="263.83" width="3.8" height="21.95" fill="#2962FF" stroke="#089981" stroke-width="1"/>
<rect x="948.21" y="241.59" width="1.3" height="26.57" fill="#089981"/>
<rect x="946.96" y="246.93" width="3.8" height="15.91" fill="#2962FF" stroke="#089981" stroke-width="1"/>
<rect x="954.37" y="222.27" width="1.3" height="50.72" fill="#089981"/>
<rect x="953.12" y="229.53" width="3.8" height="16.39" fill="#2962FF" stroke="#089981" stroke-width="1"/>
<rect x="960.52" y="198.12" width="1.3" height="50.72" fill="#089981"/>
<rect x="959.27" y="210.69" width="3.8" height="17.84" fill="#2962FF" stroke="#089981" stroke-width="1"/>
<rect x="966.68" y="207.78" width="1.3" height="65.22" fill="#F23645"/>
<rect x="964.93" y="210.19" width="4.8" height="46.62" fill="#F23645"/>
<rect x="972.83" y="211.4" width="1.3" height="53.14" fill="#089981"/>
<rect x="971.58" y="221.56" width="3.8" height="34.75" fill="#2962FF" stroke="#089981" stroke-width="1"/>
<rect x="978.99" y="196.43" width="1.3" height="34.3" fill="#089981"/>
<rect x="977.74" y="211.42" width="3.8" height="9.14" fill="#2962FF" stroke="#089981" stroke-width="1"/>
<rect x="985.14" y="204.15" width="1.3" height="94.2" fill="#F23645"/>
<rect x="983.39" y="210.92" width="4.8" height="74.88" fill="#F23645"/>
<rect x="991.3" y="266.47" width="1.3" height="66.18" fill="#F23645"/>
<rect x="989.55" y="285.8" width="4.8" height="19.81" fill="#F23645"/>
<rect x="997.45" y="268.16" width="1.3" height="46.62" fill="#089981"/>
<rect x="996.2" y="275.19" width="3.8" height="29.92" fill="#2962FF" stroke="#089981" stroke-width="1"/>
<rect x="1003.61" y="272.27" width="1.3" height="28.5" fill="#F23645"/>
<rect x="1001.86" y="274.69" width="4.8" height="13.53" fill="#F23645"/>
<rect x="1009.76" y="281.45" width="1.3" height="20.53" fill="#F23645"/>
<rect x="1008.01" y="288.21" width="4.8" height="10.14" fill="#F23645"/>
<rect x="1015.92" y="256.09" width="1.3" height="43.48" fill="#089981"/>
<rect x="1014.67" y="259.73" width="3.8" height="38.13" fill="#2962FF" stroke="#089981" stroke-width="1"/>
<rect x="1022.07" y="240.87" width="1.3" height="22.46" fill="#089981"/>
<rect x="1020.82" y="249.34" width="3.8" height="9.39" fill="#2962FF" stroke="#089981" stroke-width="1"/>
<rect x="1028.23" y="246.43" width="1.3" height="77.29" fill="#F23645"/>
<rect x="1026.48" y="248.84" width="4.8" height="65.22" fill="#F23645"/>
<rect x="1034.38" y="299.57" width="1.3" height="18.12" fill="#089981"/>
<rect x="1033.13" y="308.04" width="3.8" height="5.52" fill="#2962FF" stroke="#089981" stroke-width="1"/>
<rect x="1040.53" y="277.83" width="1.3" height="83.82" fill="#089981"/>
<rect x="1039.28" y="281.47" width="3.8" height="25.57" fill="#2962FF" stroke="#089981" stroke-width="1"/>
<rect x="1046.69" y="269.86" width="1.3" height="43.48" fill="#F23645"/>
<rect x="1044.94" y="280.97" width="4.8" height="20.29" fill="#F23645"/>
<rect x="1052.84" y="280.97" width="1.3" height="46.86" fill="#089981"/>
<rect x="1051.59" y="298.86" width="3.8" height="1.9" fill="#2962FF" stroke="#089981" stroke-width="1"/>
<rect x="1059" y="283.86" width="1.3" height="35.75" fill="#F23645"/>
<rect x="1057.25" y="298.36" width="4.8" height="2.42" fill="#F23645"/>
<rect x="1065.15" y="293.04" width="1.3" height="53.14" fill="#F23645"/>
<rect x="1063.4" y="300.77" width="4.8" height="18.84" fill="#F23645"/>
<rect x="1071.31" y="305.6" width="1.3" height="36.23" fill="#089981"/>
<rect x="1070.06" y="310.93" width="3.8" height="8.18" fill="#2962FF" stroke="#089981" stroke-width="1"/>
<rect x="1077.46" y="282.66" width="1.3" height="107" fill="#F23645"/>
<rect x="1075.71" y="310.43" width="4.8" height="59.44" fill="#F23645"/>
<rect x="1083.62" y="359.95" width="1.3" height="148.6" fill="#F23645"/>
<rect x="1081.87" y="369.88" width="4.8" height="13.79" fill="#F23645"/>
<rect x="1089.77" y="371.59" width="1.3" height="52.42" fill="#F23645"/>
<rect x="1088.02" y="383.67" width="4.8" height="27.54" fill="#F23645"/>
<rect x="1095.93" y="394.3" width="1.3" height="36.96" fill="#F23645"/>
<rect x="1094.18" y="411.21" width="4.8" height="5.56" fill="#F23645"/>
<rect x="1102.08" y="382.22" width="1.3" height="44.2" fill="#089981"/>
<rect x="1100.83" y="394.8" width="3.8" height="21.46" fill="#2962FF" stroke="#089981" stroke-width="1"/>
<rect x="1108.24" y="373.29" width="1.3" height="36.23" fill="#089981"/>
<rect x="1106.99" y="391.66" width="3.8" height="2.14" fill="#2962FF" stroke="#089981" stroke-width="1"/>
<rect x="1114.39" y="386.57" width="1.3" height="29.47" fill="#F23645"/>
<rect x="1112.64" y="391.16" width="4.8" height="1.2" fill="#F23645"/>
<rect x="1120.55" y="371.59" width="1.3" height="42.03" fill="#089981"/>
<rect x="1119.3" y="378.62" width="3.8" height="12.53" fill="#2962FF" stroke="#089981" stroke-width="1"/>
<rect x="1126.7" y="374.98" width="1.3" height="111.11" fill="#F23645"/>
<rect x="1124.95" y="378.12" width="4.8" height="91.79" fill="#F23645"/>
<rect x="1132.86" y="460.24" width="1.3" height="65.22" fill="#F23645"/>
<rect x="1131.11" y="469.9" width="4.8" height="24.15" fill="#F23645"/>
<rect x="1139.01" y="426.43" width="1.3" height="119.08" fill="#F23645"/>
<rect x="1137.26" y="494.06" width="4.8" height="10.39" fill="#F23645"/>
<rect x="1145.16" y="472.32" width="1.3" height="47.1" fill="#F23645"/>
<rect x="1143.41" y="504.44" width="4.8" height="7.25" fill="#F23645"/>
<rect x="1151.32" y="490.92" width="1.3" height="100.72" fill="#F23645"/>
<rect x="1149.57" y="511.69" width="4.8" height="65.85" fill="#F23645"/>
<rect x="1157.47" y="553.11" width="1.3" height="54.1" fill="#F23645"/>
<rect x="1155.72" y="577.54" width="4.8" height="1.2" fill="#F23645"/>
<rect x="1163.63" y="554.43" width="1.3" height="23.61" fill="#089981"/>
<rect x="1162.38" y="572.71" width="3.8" height="4.82" fill="#2962FF" stroke="#089981" stroke-width="1"/>
<rect x="1169.78" y="527.15" width="1.3" height="48.1" fill="#089981"/>
<rect x="1168.53" y="530.79" width="3.8" height="40.92" fill="#2962FF" stroke="#089981" stroke-width="1"/>
<rect x="1175.94" y="527.15" width="1.3" height="32.13" fill="#F23645"/>
<rect x="1174.19" y="530.29" width="4.8" height="18.12" fill="#F23645"/>
<rect x="1182.09" y="519.42" width="1.3" height="28.99" fill="#089981"/>
<rect x="1180.84" y="528.37" width="3.8" height="19.53" fill="#2962FF" stroke="#089981" stroke-width="1"/>
<rect x="1188.25" y="525.46" width="1.3" height="52.57" fill="#F23645"/>
<rect x="1186.5" y="527.87" width="4.8" height="41.96" fill="#F23645"/>
<rect x="1194.4" y="565.41" width="1.3" height="37.7" fill="#F23645"/>
<rect x="1192.65" y="569.84" width="4.8" height="19.02" fill="#F23645"/>
<rect x="1200.56" y="554.43" width="1.3" height="53.11" fill="#F23645"/>
<rect x="1198.81" y="588.85" width="4.8" height="1.64" fill="#F23645"/>
<rect x="1206.71" y="585.08" width="1.3" height="86.07" fill="#F23645"/>
<rect x="1204.96" y="590.49" width="4.8" height="67.21" fill="#F23645"/>
<rect x="1212.87" y="625.25" width="1.3" height="96.39" fill="#089981"/>
<rect x="1211.62" y="631.48" width="3.8" height="25.72" fill="#2962FF" stroke="#089981" stroke-width="1"/>
<rect x="1219.02" y="630.98" width="1.3" height="60.66" fill="#F23645"/>
<rect x="1217.27" y="630.98" width="4.8" height="7.79" fill="#F23645"/>
<rect x="1225.18" y="624.43" width="1.3" height="38.85" fill="#F23645"/>
<rect x="1223.43" y="638.77" width="4.8" height="16.8" fill="#F23645"/>
<rect x="1231.33" y="646.56" width="1.3" height="23.77" fill="#089981"/>
<rect x="1230.08" y="655.5" width="3.8" height="0.3" fill="#2962FF" stroke="#089981" stroke-width="1"/>
<rect x="1237.49" y="633.77" width="1.3" height="28.36" fill="#F23645"/>
<rect x="1235.74" y="655" width="4.8" height="2.7" fill="#F23645"/>
<rect x="1243.64" y="585.08" width="1.3" height="84.75" fill="#089981"/>
<rect x="1242.39" y="603.12" width="3.8" height="54.08" fill="#2962FF" stroke="#089981" stroke-width="1"/>
<rect x="1249.79" y="579.34" width="1.3" height="31.15" fill="#089981"/>
<rect x="1248.54" y="597.06" width="3.8" height="5.07" fill="#2962FF" stroke="#089981" stroke-width="1"/>
<rect x="1255.95" y="582.95" width="1.3" height="30" fill="#089981"/>
<rect x="1254.7" y="596.24" width="3.8" height="0.3" fill="#2962FF" stroke="#089981" stroke-width="1"/>
<rect x="1262.1" y="574.75" width="1.3" height="21.31" fill="#089981"/>
<rect x="1260.85" y="586.73" width="3.8" height="8.51" fill="#2962FF" stroke="#089981" stroke-width="1"/>
<rect x="1268.26" y="580.98" width="1.3" height="26.56" fill="#F23645"/>
<rect x="1266.51" y="586.23" width="4.8" height="4.26" fill="#F23645"/>
<rect x="1274.41" y="437.29" width="1.3" height="160.9" fill="#089981"/>
<rect x="1273.16" y="467.99" width="3.8" height="122" fill="#2962FF" stroke="#089981" stroke-width="1"/>
<rect x="1280.57" y="412.66" width="1.3" height="59.66" fill="#089981"/>
<rect x="1279.32" y="437.31" width="3.8" height="29.68" fill="#2962FF" stroke="#089981" stroke-width="1"/>
<rect x="1286.72" y="391.88" width="1.3" height="59.9" fill="#089981"/>
<rect x="1285.47" y="427.65" width="3.8" height="8.66" fill="#2962FF" stroke="#089981" stroke-width="1"/>
<rect x="1292.88" y="408.31" width="1.3" height="62.8" fill="#F23645"/>
<rect x="1291.13" y="427.15" width="4.8" height="9.66" fill="#F23645"/>
<rect x="1299.03" y="413.62" width="1.3" height="51.45" fill="#089981"/>
<rect x="1297.78" y="427.65" width="3.8" height="8.66" fill="#2962FF" stroke="#089981" stroke-width="1"/>
<rect x="1305.19" y="393.33" width="1.3" height="42.03" fill="#F23645"/>
<rect x="1303.44" y="427.15" width="4.8" height="2.9" fill="#F23645"/>
<rect x="1311.34" y="396.71" width="1.3" height="45.41" fill="#089981"/>
<rect x="1310.09" y="406.39" width="3.8" height="23.15" fill="#2962FF" stroke="#089981" stroke-width="1"/>
<rect x="1317.5" y="383.67" width="1.3" height="50" fill="#F23645"/>
<rect x="1315.75" y="405.89" width="4.8" height="24.15" fill="#F23645"/>
<rect x="1323.65" y="414.35" width="1.3" height="26.57" fill="#089981"/>
<rect x="1322.4" y="416.17" width="3.8" height="13.37" fill="#2962FF" stroke="#089981" stroke-width="1"/>
<rect x="1329.81" y="402.27" width="1.3" height="54.35" fill="#F23645"/>
<rect x="1328.06" y="415.67" width="4.8" height="37.12" fill="#F23645"/>
<rect x="1335.96" y="426.94" width="1.3" height="31.74" fill="#089981"/>
<rect x="1334.71" y="434.98" width="3.8" height="17.31" fill="#2962FF" stroke="#089981" stroke-width="1"/>
<rect x="1342.12" y="368.43" width="1.3" height="70.41" fill="#089981"/>
<rect x="1340.87" y="386.78" width="3.8" height="47.2" fill="#2962FF" stroke="#089981" stroke-width="1"/>
<rect x="1348.27" y="384.3" width="1.3" height="63.47" fill="#F23645"/>
<rect x="1346.52" y="386.28" width="4.8" height="43.64" fill="#F23645"/>
<rect x="1354.42" y="402.15" width="1.3" height="42.64" fill="#F23645"/>
<rect x="1352.67" y="429.92" width="4.8" height="3.97" fill="#F23645"/>
<rect x="1360.58" y="422.98" width="1.3" height="38.68" fill="#F23645"/>
<rect x="1358.83" y="433.88" width="4.8" height="20.63" fill="#F23645"/>
<rect x="1366.73" y="446.38" width="1.3" height="70.81" fill="#089981"/>
<rect x="1365.48" y="453.43" width="3.8" height="0.59" fill="#2962FF" stroke="#089981" stroke-width="1"/>
<rect x="1372.89" y="431.9" width="1.3" height="27.77" fill="#089981"/>
<rect x="1371.64" y="452.33" width="3.8" height="0.3" fill="#2962FF" stroke="#089981" stroke-width="1"/>
<rect x="1379.04" y="430.91" width="1.3" height="27.77" fill="#089981"/>
<rect x="1377.79" y="436.96" width="3.8" height="14.37" fill="#2962FF" stroke="#089981" stroke-width="1"/>
<rect x="1385.2" y="414.05" width="1.3" height="46.61" fill="#089981"/>
<rect x="1383.95" y="423.48" width="3.8" height="12.49" fill="#2962FF" stroke="#089981" stroke-width="1"/>
<rect x="1391.35" y="410.08" width="1.3" height="29.75" fill="#F23645"/>
<rect x="1389.6" y="422.98" width="4.8" height="9.52" fill="#F23645"/>
<rect x="1397.51" y="412.66" width="1.3" height="22.21" fill="#089981"/>
<rect x="1396.26" y="415.14" width="3.8" height="16.85" fill="#2962FF" stroke="#089981" stroke-width="1"/>
<rect x="1403.66" y="341.65" width="1.3" height="76.96" fill="#089981"/>
<rect x="1402.41" y="355.34" width="3.8" height="58.8" fill="#2962FF" stroke="#089981" stroke-width="1"/>
<rect x="1409.82" y="334.71" width="1.3" height="28.76" fill="#089981"/>
<rect x="1408.57" y="346.83" width="3.8" height="7.52" fill="#2962FF" stroke="#089981" stroke-width="1"/>
<rect x="1415.97" y="269.95" width="1.3" height="88.65" fill="#089981"/>
<rect x="1414.72" y="277.7" width="3.8" height="68.13" fill="#2962FF" stroke="#089981" stroke-width="1"/>
<rect x="1422.13" y="231.3" width="1.3" height="47.1" fill="#089981"/>
<rect x="1420.88" y="240.74" width="3.8" height="35.96" fill="#2962FF" stroke="#089981" stroke-width="1"/>
<rect x="1428.28" y="226.47" width="1.3" height="43.48" fill="#F23645"/>
<rect x="1426.53" y="240.24" width="4.8" height="15.94" fill="#F23645"/>
<rect x="1434.44" y="234.93" width="1.3" height="37.44" fill="#089981"/>
<rect x="1433.19" y="242.19" width="3.8" height="13.49" fill="#2962FF" stroke="#089981" stroke-width="1"/>
<rect x="1440.59" y="216.81" width="1.3" height="27.78" fill="#089981"/>
<rect x="1439.34" y="235.91" width="3.8" height="5.28" fill="#2962FF" stroke="#089981" stroke-width="1"/>
<rect x="1446.75" y="225.27" width="1.3" height="57.97" fill="#F23645"/>
<rect x="1445" y="235.41" width="4.8" height="40.1" fill="#F23645"/>
<rect x="1452.9" y="242.66" width="1.3" height="52.17" fill="#089981"/>
<rect x="1451.65" y="244.61" width="3.8" height="30.4" fill="#2962FF" stroke="#089981" stroke-width="1"/>
<rect x="1459.05" y="218.02" width="1.3" height="49.52" fill="#089981"/>
<rect x="1457.8" y="220.93" width="3.8" height="22.67" fill="#2962FF" stroke="#089981" stroke-width="1"/>
<rect x="1465.21" y="170.92" width="1.3" height="51.93" fill="#089981"/>
<rect x="1463.96" y="181.08" width="3.8" height="38.86" fill="#2962FF" stroke="#089981" stroke-width="1"/>
<rect x="1471.36" y="123.33" width="1.3" height="65.7" fill="#089981"/>
<rect x="1470.11" y="127.21" width="3.8" height="52.86" fill="#2962FF" stroke="#089981" stroke-width="1"/>
<rect x="1477.52" y="121.88" width="1.3" height="44.2" fill="#F23645"/>
<rect x="1475.77" y="126.71" width="4.8" height="34.18" fill="#F23645"/>
<rect x="1483.67" y="144.35" width="1.3" height="56.76" fill="#F23645"/>
<rect x="1481.92" y="160.89" width="4.8" height="40.22" fill="#F23645"/>
<rect x="1489.83" y="112.95" width="1.3" height="89.37" fill="#089981"/>
<rect x="1488.58" y="119.49" width="3.8" height="81.13" fill="#2962FF" stroke="#089981" stroke-width="1"/>
<rect x="1495.98" y="105.7" width="1.3" height="64.49" fill="#F23645"/>
<rect x="1494.23" y="118.99" width="4.8" height="47.46" fill="#F23645"/>
<rect x="1502.14" y="135.41" width="1.3" height="36.71" fill="#089981"/>
<rect x="1500.89" y="152.09" width="3.8" height="13.86" fill="#2962FF" stroke="#089981" stroke-width="1"/>
<rect x="1508.29" y="151.59" width="1.3" height="27.78" fill="#F23645"/>
<rect x="1506.54" y="151.59" width="4.8" height="13.29" fill="#F23645"/>
<rect x="1514.45" y="153.29" width="1.3" height="31.4" fill="#089981"/>
<rect x="1513.2" y="158.62" width="3.8" height="5.76" fill="#2962FF" stroke="#089981" stroke-width="1"/>
<rect x="1520.6" y="154.01" width="1.3" height="28.26" fill="#F23645"/>
<rect x="1518.85" y="158.12" width="4.8" height="19.32" fill="#F23645"/>
<rect x="1526.76" y="165.36" width="1.3" height="12.08" fill="#089981"/>
<rect x="1525.51" y="174.56" width="3.8" height="2.38" fill="#2962FF" stroke="#089981" stroke-width="1"/>
<rect x="1532.91" y="127.44" width="1.3" height="48.31" fill="#089981"/>
<rect x="1531.66" y="130.36" width="3.8" height="43.2" fill="#2962FF" stroke="#089981" stroke-width="1"/>
<rect x="1539.07" y="125.02" width="1.3" height="30.68" fill="#F23645"/>
<rect x="1537.32" y="129.86" width="4.8" height="20.53" fill="#F23645"/>
<rect x="1545.22" y="137.1" width="1.3" height="24.15" fill="#089981"/>
<rect x="1543.97" y="144.12" width="3.8" height="5.76" fill="#2962FF" stroke="#089981" stroke-width="1"/>
<rect x="1551.37" y="140.24" width="1.3" height="18.6" fill="#F23645"/>
<rect x="1549.62" y="143.62" width="4.8" height="14.86" fill="#F23645"/>
<rect x="1557.53" y="158.12" width="1.3" height="43" fill="#F23645"/>
<rect x="1555.78" y="158.48" width="4.8" height="32.97" fill="#F23645"/>
<rect x="1563.68" y="191.45" width="1.3" height="39.13" fill="#F23645"/>
<rect x="1561.93" y="191.45" width="4.8" height="15.7" fill="#F23645"/>
<rect x="1569.84" y="180.58" width="1.3" height="32.13" fill="#089981"/>
<rect x="1568.59" y="193.16" width="3.8" height="13.49" fill="#2962FF" stroke="#089981" stroke-width="1"/>
<rect x="1575.99" y="142.66" width="1.3" height="51.69" fill="#089981"/>
<rect x="1574.74" y="151.37" width="3.8" height="40.79" fill="#2962FF" stroke="#089981" stroke-width="1"/>
<rect x="1582.15" y="128.16" width="1.3" height="29.47" fill="#089981"/>
<rect x="1580.9" y="133.5" width="3.8" height="16.87" fill="#2962FF" stroke="#089981" stroke-width="1"/>
<rect x="1588.3" y="125.75" width="1.3" height="51.69" fill="#F23645"/>
<rect x="1586.55" y="133" width="4.8" height="33.82" fill="#F23645"/>
<rect x="1594.46" y="164.88" width="1.3" height="106.76" fill="#F23645"/>
<rect x="1592.71" y="166.81" width="4.8" height="24.15" fill="#F23645"/>
<rect x="1600.61" y="175.75" width="1.3" height="46.62" fill="#F23645"/>
<rect x="1598.86" y="190.97" width="4.8" height="19.81" fill="#F23645"/>
<rect x="1606.77" y="199.18" width="1.3" height="50.72" fill="#F23645"/>
<rect x="1605.02" y="210.77" width="4.8" height="12.32" fill="#F23645"/>
<rect x="1612.92" y="197.49" width="1.3" height="32.61" fill="#F23645"/>
<rect x="1611.17" y="223.09" width="4.8" height="1.21" fill="#F23645"/>
<rect x="1619.08" y="206.43" width="1.3" height="38.65" fill="#089981"/>
<rect x="1617.83" y="218.04" width="3.8" height="5.76" fill="#2962FF" stroke="#089981" stroke-width="1"/>
<rect x="1625.23" y="179.86" width="1.3" height="40.1" fill="#089981"/>
<rect x="1623.98" y="195.8" width="3.8" height="21.23" fill="#2962FF" stroke="#089981" stroke-width="1"/>
<rect x="1631.39" y="189.32" width="1.3" height="61.1" fill="#F23645"/>
<rect x="1629.64" y="195.3" width="4.8" height="38.55" fill="#F23645"/>
<rect x="1637.54" y="219.36" width="1.3" height="15.54" fill="#089981"/>
<rect x="1636.29" y="221.93" width="3.8" height="11.43" fill="#2962FF" stroke="#089981" stroke-width="1"/>
<rect x="1643.7" y="220.39" width="1.3" height="118.69" fill="#F23645"/>
<rect x="1641.95" y="221.43" width="4.8" height="63.18" fill="#F23645"/>
<rect x="1649.85" y="275.28" width="1.3" height="43.08" fill="#F23645"/>
<rect x="1648.1" y="284.6" width="4.8" height="3.11" fill="#F23645"/>
<rect x="1656" y="252.5" width="1.3" height="41.43" fill="#089981"/>
<rect x="1654.75" y="286.35" width="3.8" height="0.86" fill="#2962FF" stroke="#089981" stroke-width="1"/>
<rect x="1662.16" y="262.44" width="1.3" height="74.57" fill="#F23645"/>
<rect x="1660.41" y="285.85" width="4.8" height="44.95" fill="#F23645"/>
<rect x="1668.31" y="310.08" width="1.3" height="44.95" fill="#F23645"/>
<rect x="1666.56" y="330.79" width="4.8" height="13.26" fill="#F23645"/>
<rect x="1674.47" y="321.89" width="1.3" height="62.14" fill="#F23645"/>
<rect x="1672.72" y="344.05" width="4.8" height="32.73" fill="#F23645"/>
<rect x="1680.62" y="367.46" width="1.3" height="46.19" fill="#F23645"/>
<rect x="1678.87" y="376.78" width="4.8" height="4.56" fill="#F23645"/>
<rect x="1686.78" y="341.57" width="1.3" height="45.98" fill="#089981"/>
<rect x="1685.53" y="344.55" width="3.8" height="36.28" fill="#2962FF" stroke="#089981" stroke-width="1"/>
<rect x="1692.93" y="332.24" width="1.3" height="21.33" fill="#F23645"/>
<rect x="1691.18" y="344.05" width="4.8" height="5.39" fill="#F23645"/>
<rect x="1699.09" y="339.91" width="1.3" height="55.93" fill="#089981"/>
<rect x="1697.84" y="349.31" width="3.8" height="0.3" fill="#2962FF" stroke="#089981" stroke-width="1"/>
<rect x="1705.24" y="310.49" width="1.3" height="39.36" fill="#089981"/>
<rect x="1703.99" y="345.17" width="3.8" height="3.14" fill="#2962FF" stroke="#089981" stroke-width="1"/>
<rect x="1711.4" y="320.44" width="1.3" height="42.26" fill="#089981"/>
<rect x="1710.15" y="328.6" width="3.8" height="15.57" fill="#2962FF" stroke="#089981" stroke-width="1"/>
<rect x="1717.55" y="276.32" width="1.3" height="56.96" fill="#089981"/>
<rect x="1716.3" y="312.34" width="3.8" height="15.26" fill="#2962FF" stroke="#089981" stroke-width="1"/>
<rect x="1723.71" y="307.39" width="1.3" height="36.25" fill="#F23645"/>
<rect x="1721.96" y="311.84" width="4.8" height="26.62" fill="#F23645"/>
<rect x="1729.86" y="320.44" width="1.3" height="62.97" fill="#F23645"/>
<rect x="1728.11" y="338.46" width="4.8" height="37.91" fill="#F23645"/>
<rect x="1736.02" y="345.71" width="1.3" height="40.39" fill="#089981"/>
<rect x="1734.77" y="352.42" width="3.8" height="23.44" fill="#2962FF" stroke="#089981" stroke-width="1"/>
<rect x="1742.17" y="336.39" width="1.3" height="27.96" fill="#F23645"/>
<rect x="1740.42" y="351.92" width="4.8" height="2.49" fill="#F23645"/>
<rect x="1748.33" y="349.44" width="1.3" height="16.99" fill="#F23645"/>
<rect x="1746.58" y="354.41" width="4.8" height="6.21" fill="#F23645"/>
<rect x="1754.48" y="339.49" width="1.3" height="23.82" fill="#089981"/>
<rect x="1753.23" y="359.98" width="3.8" height="0.3" fill="#2962FF" stroke="#089981" stroke-width="1"/>
<rect x="1760.63" y="344.67" width="1.3" height="17.19" fill="#089981"/>
<rect x="1759.38" y="354.49" width="3.8" height="4.49" fill="#2962FF" stroke="#089981" stroke-width="1"/>
<rect x="1766.79" y="324.99" width="1.3" height="29" fill="#089981"/>
<rect x="1765.54" y="328.6" width="3.8" height="24.89" fill="#2962FF" stroke="#089981" stroke-width="1"/>
<rect x="1772.94" y="301.17" width="1.3" height="27.96" fill="#089981"/>
<rect x="1771.69" y="303.75" width="3.8" height="23.86" fill="#2962FF" stroke="#089981" stroke-width="1"/>
<rect x="1779.1" y="303.25" width="1.3" height="37.28" fill="#F23645"/>
<rect x="1777.35" y="303.25" width="4.8" height="31.38" fill="#F23645"/>
<rect x="1785.25" y="321.89" width="1.3" height="16.57" fill="#089981"/>
<rect x="1784" y="333.99" width="3.8" height="0.3" fill="#2962FF" stroke="#089981" stroke-width="1"/>
<rect x="1791.41" y="287.3" width="1.3" height="46.4" fill="#089981"/>
<rect x="1790.16" y="300.22" width="3.8" height="32.76" fill="#2962FF" stroke="#089981" stroke-width="1"/>
<rect x="1797.56" y="292.23" width="1.3" height="17.03" fill="#089981"/>
<rect x="1796.31" y="295.27" width="3.8" height="3.63" fill="#2962FF" stroke="#089981" stroke-width="1"/>
<line x1="1650" y1="275.5" x2="1922" y2="275.5" stroke="#E91E63" stroke-width="1.3"/>
<line x1="1650" y1="415" x2="1922" y2="415" stroke="#E91E63" stroke-width="1.3"/>
</g>
<g clip-path="url(#ca)">
<rect x="11.05" y="933.7" width="4.6" height="15.21" fill="#F44336"/>
<rect x="17.2" y="933.7" width="4.6" height="14.85" fill="#089981"/>
<rect x="23.36" y="933.7" width="4.6" height="14.85" fill="#089981"/>
<rect x="29.51" y="933.7" width="4.6" height="14.85" fill="#F44336"/>
<rect x="35.67" y="933.7" width="4.6" height="15.67" fill="#F44336"/>
<rect x="41.82" y="933.7" width="4.6" height="14.85" fill="#089981"/>
<rect x="47.98" y="933.7" width="4.6" height="14.85" fill="#089981"/>
<rect x="54.13" y="933.7" width="4.6" height="15.21" fill="#F44336"/>
<rect x="60.29" y="933.7" width="4.6" height="15.21" fill="#089981"/>
<rect x="66.44" y="933.7" width="4.6" height="14.03" fill="#089981"/>
<rect x="72.6" y="933.7" width="4.6" height="12.28" fill="#089981"/>
<rect x="78.75" y="933.7" width="4.6" height="11.92" fill="#089981"/>
<rect x="84.91" y="933.7" width="4.6" height="10.75" fill="#089981"/>
<rect x="91.06" y="933.7" width="4.6" height="10.75" fill="#089981"/>
<rect x="97.22" y="933.7" width="4.6" height="11.1" fill="#F44336"/>
<rect x="103.37" y="933.7" width="4.6" height="12.16" fill="#F44336"/>
<rect x="109.53" y="933.7" width="4.6" height="12.16" fill="#089981"/>
<rect x="115.68" y="933.7" width="4.6" height="9" fill="#089981"/>
<rect x="121.83" y="933.7" width="4.6" height="4.07" fill="#089981"/>
<rect x="127.99" y="933.7" width="4.6" height="1" fill="#089981"/>
<rect x="134.14" y="928.63" width="4.6" height="5.07" fill="#089981"/>
<rect x="140.3" y="924.18" width="4.6" height="9.52" fill="#089981"/>
<rect x="146.45" y="921.95" width="4.6" height="11.75" fill="#089981"/>
<rect x="152.61" y="918.2" width="4.6" height="15.5" fill="#089981"/>
<rect x="158.76" y="914.34" width="4.6" height="19.36" fill="#089981"/>
<rect x="164.92" y="911.99" width="4.6" height="21.71" fill="#089981"/>
<rect x="171.07" y="909.88" width="4.6" height="23.82" fill="#089981"/>
<rect x="177.23" y="907.3" width="4.6" height="26.4" fill="#089981"/>
<rect x="183.38" y="906.95" width="4.6" height="26.75" fill="#089981"/>
<rect x="189.54" y="908.12" width="4.6" height="25.58" fill="#F44336"/>
<rect x="195.69" y="907.3" width="4.6" height="26.4" fill="#089981"/>
<rect x="201.85" y="904.61" width="4.6" height="29.09" fill="#089981"/>
<rect x="208" y="901.09" width="4.6" height="32.61" fill="#089981"/>
<rect x="214.16" y="899.1" width="4.6" height="34.6" fill="#089981"/>
<rect x="220.31" y="896.99" width="4.6" height="36.71" fill="#089981"/>
<rect x="226.46" y="895.82" width="4.6" height="37.88" fill="#089981"/>
<rect x="232.62" y="898.16" width="4.6" height="35.54" fill="#F44336"/>
<rect x="238.77" y="900.51" width="4.6" height="33.19" fill="#F44336"/>
<rect x="244.93" y="902.9" width="4.6" height="30.8" fill="#F44336"/>
<rect x="251.08" y="903.09" width="4.6" height="30.61" fill="#F44336"/>
<rect x="257.24" y="904.21" width="4.6" height="29.49" fill="#F44336"/>
<rect x="263.39" y="904.6" width="4.6" height="29.1" fill="#F44336"/>
<rect x="269.55" y="906.59" width="4.6" height="27.11" fill="#F44336"/>
<rect x="275.7" y="907.62" width="4.6" height="26.08" fill="#F44336"/>
<rect x="281.86" y="906.22" width="4.6" height="27.48" fill="#089981"/>
<rect x="288.01" y="904.27" width="4.6" height="29.43" fill="#089981"/>
<rect x="294.17" y="902.15" width="4.6" height="31.55" fill="#089981"/>
<rect x="300.32" y="900.77" width="4.6" height="32.93" fill="#089981"/>
<rect x="306.48" y="902.05" width="4.6" height="31.65" fill="#F44336"/>
<rect x="312.63" y="909.2" width="4.6" height="24.5" fill="#F44336"/>
<rect x="318.79" y="915.05" width="4.6" height="18.65" fill="#F44336"/>
<rect x="324.94" y="920.55" width="4.6" height="13.15" fill="#F44336"/>
<rect x="331.09" y="924.76" width="4.6" height="8.94" fill="#F44336"/>
<rect x="337.25" y="925.13" width="4.6" height="8.57" fill="#F44336"/>
<rect x="343.4" y="922.27" width="4.6" height="11.43" fill="#089981"/>
<rect x="349.56" y="918.62" width="4.6" height="15.08" fill="#089981"/>
<rect x="355.71" y="912.07" width="4.6" height="21.63" fill="#089981"/>
<rect x="361.87" y="903.56" width="4.6" height="30.14" fill="#089981"/>
<rect x="368.02" y="895.61" width="4.6" height="38.09" fill="#089981"/>
<rect x="374.18" y="888.07" width="4.6" height="45.63" fill="#089981"/>
<rect x="380.33" y="878.76" width="4.6" height="54.94" fill="#089981"/>
<rect x="386.49" y="871.22" width="4.6" height="62.48" fill="#089981"/>
<rect x="392.64" y="863.29" width="4.6" height="70.41" fill="#089981"/>
<rect x="398.8" y="851.67" width="4.6" height="82.03" fill="#089981"/>
<rect x="404.95" y="840.86" width="4.6" height="92.84" fill="#089981"/>
<rect x="411.11" y="836.42" width="4.6" height="97.28" fill="#089981"/>
<rect x="417.26" y="836.65" width="4.6" height="97.05" fill="#F44336"/>
<rect x="423.41" y="843.66" width="4.6" height="90.04" fill="#F44336"/>
<rect x="429.57" y="855.25" width="4.6" height="78.45" fill="#F44336"/>
<rect x="435.72" y="865.27" width="4.6" height="68.43" fill="#F44336"/>
<rect x="441.88" y="874.04" width="4.6" height="59.66" fill="#F44336"/>
<rect x="448.03" y="880.04" width="4.6" height="53.66" fill="#F44336"/>
<rect x="454.19" y="882.92" width="4.6" height="50.78" fill="#F44336"/>
<rect x="460.34" y="883.79" width="4.6" height="49.91" fill="#F44336"/>
<rect x="466.5" y="886.86" width="4.6" height="46.84" fill="#F44336"/>
<rect x="472.65" y="895.48" width="4.6" height="38.22" fill="#F44336"/>
<rect x="478.81" y="903.86" width="4.6" height="29.84" fill="#F44336"/>
<rect x="484.96" y="911.41" width="4.6" height="22.29" fill="#F44336"/>
<rect x="491.12" y="919.09" width="4.6" height="14.61" fill="#F44336"/>
<rect x="497.27" y="927.82" width="4.6" height="5.88" fill="#F44336"/>
<rect x="503.43" y="929.41" width="4.6" height="4.29" fill="#F44336"/>
<rect x="509.58" y="932.05" width="4.6" height="1.65" fill="#F44336"/>
<rect x="515.74" y="933.15" width="4.6" height="1" fill="#F44336"/>
<rect x="521.89" y="933.7" width="4.6" height="3.78" fill="#F44336"/>
<rect x="528.04" y="933.7" width="4.6" height="9.39" fill="#F44336"/>
<rect x="534.2" y="933.7" width="4.6" height="16.25" fill="#F44336"/>
<rect x="540.35" y="933.7" width="4.6" height="19.07" fill="#F44336"/>
<rect x="546.51" y="933.7" width="4.6" height="16.17" fill="#089981"/>
<rect x="552.66" y="933.7" width="4.6" height="7.66" fill="#089981"/>
<rect x="558.82" y="930.19" width="4.6" height="3.51" fill="#089981"/>
<rect x="564.97" y="916.19" width="4.6" height="17.51" fill="#089981"/>
<rect x="571.13" y="904.16" width="4.6" height="29.54" fill="#089981"/>
<rect x="577.28" y="898.78" width="4.6" height="34.92" fill="#089981"/>
<rect x="583.44" y="900.64" width="4.6" height="33.06" fill="#F44336"/>
<rect x="589.59" y="902.81" width="4.6" height="30.89" fill="#F44336"/>
<rect x="595.75" y="909.13" width="4.6" height="24.57" fill="#F44336"/>
<rect x="601.9" y="913.88" width="4.6" height="19.82" fill="#F44336"/>
<rect x="608.06" y="918.28" width="4.6" height="15.42" fill="#F44336"/>
<rect x="614.21" y="920.85" width="4.6" height="12.85" fill="#F44336"/>
<rect x="620.37" y="925.19" width="4.6" height="8.51" fill="#F44336"/>
<rect x="626.52" y="926.82" width="4.6" height="6.88" fill="#F44336"/>
<rect x="632.67" y="928.29" width="4.6" height="5.41" fill="#F44336"/>
<rect x="638.83" y="932.21" width="4.6" height="1.49" fill="#F44336"/>
<rect x="644.98" y="933.7" width="4.6" height="7.39" fill="#F44336"/>
<rect x="651.14" y="933.7" width="4.6" height="13.03" fill="#F44336"/>
<rect x="657.29" y="933.7" width="4.6" height="17.15" fill="#F44336"/>
<rect x="663.45" y="933.7" width="4.6" height="19.09" fill="#F44336"/>
<rect x="669.6" y="933.7" width="4.6" height="15.38" fill="#089981"/>
<rect x="675.76" y="933.7" width="4.6" height="5.51" fill="#089981"/>
<rect x="681.91" y="933.56" width="4.6" height="1" fill="#089981"/>
<rect x="688.07" y="931.83" width="4.6" height="1.87" fill="#089981"/>
<rect x="694.22" y="933.08" width="4.6" height="1" fill="#F44336"/>
<rect x="700.38" y="933.7" width="4.6" height="6.35" fill="#F44336"/>
<rect x="706.53" y="933.7" width="4.6" height="22.07" fill="#F44336"/>
<rect x="712.69" y="933.7" width="4.6" height="34.62" fill="#F44336"/>
<rect x="718.84" y="933.7" width="4.6" height="44.79" fill="#F44336"/>
<rect x="725" y="933.7" width="4.6" height="55.53" fill="#F44336"/>
<rect x="731.15" y="933.7" width="4.6" height="62" fill="#F44336"/>
<rect x="737.3" y="933.7" width="4.6" height="59.4" fill="#089981"/>
<rect x="743.46" y="933.7" width="4.6" height="55.45" fill="#089981"/>
<rect x="749.61" y="933.7" width="4.6" height="55.1" fill="#089981"/>
<rect x="755.77" y="933.7" width="4.6" height="55.36" fill="#F44336"/>
<rect x="761.92" y="933.7" width="4.6" height="54.58" fill="#089981"/>
<rect x="768.08" y="933.7" width="4.6" height="54.43" fill="#089981"/>
<rect x="774.23" y="933.7" width="4.6" height="57.87" fill="#F44336"/>
<rect x="780.39" y="933.7" width="4.6" height="58.69" fill="#F44336"/>
<rect x="786.54" y="933.7" width="4.6" height="57.1" fill="#089981"/>
<rect x="792.7" y="933.7" width="4.6" height="55.92" fill="#089981"/>
<rect x="798.85" y="933.7" width="4.6" height="52.68" fill="#089981"/>
<rect x="805.01" y="933.7" width="4.6" height="44.19" fill="#089981"/>
<rect x="811.16" y="933.7" width="4.6" height="36.8" fill="#089981"/>
<rect x="817.32" y="933.7" width="4.6" height="29.5" fill="#089981"/>
<rect x="823.47" y="933.7" width="4.6" height="23.79" fill="#089981"/>
<rect x="829.63" y="933.7" width="4.6" height="22.02" fill="#089981"/>
<rect x="835.78" y="933.7" width="4.6" height="22.27" fill="#F44336"/>
<rect x="841.93" y="933.7" width="4.6" height="23.37" fill="#F44336"/>
<rect x="848.09" y="933.7" width="4.6" height="23.84" fill="#F44336"/>
<rect x="854.24" y="933.7" width="4.6" height="20.99" fill="#089981"/>
<rect x="860.4" y="933.7" width="4.6" height="14.69" fill="#089981"/>
<rect x="866.55" y="933.7" width="4.6" height="10.66" fill="#089981"/>
<rect x="872.71" y="933.7" width="4.6" height="7.09" fill="#089981"/>
<rect x="878.86" y="933.7" width="4.6" height="4.2" fill="#089981"/>
<rect x="885.02" y="933.7" width="4.6" height="2.19" fill="#089981"/>
<rect x="891.17" y="933.7" width="4.6" height="4.2" fill="#F44336"/>
<rect x="897.33" y="933.7" width="4.6" height="1.9" fill="#089981"/>
<rect x="903.48" y="924.13" width="4.6" height="9.57" fill="#089981"/>
<rect x="909.64" y="911.97" width="4.6" height="21.73" fill="#089981"/>
<rect x="915.79" y="903.91" width="4.6" height="29.79" fill="#089981"/>
<rect x="921.95" y="892.98" width="4.6" height="40.72" fill="#089981"/>
<rect x="928.1" y="884.03" width="4.6" height="49.67" fill="#089981"/>
<rect x="934.26" y="879.8" width="4.6" height="53.9" fill="#089981"/>
<rect x="940.41" y="878.58" width="4.6" height="55.12" fill="#089981"/>
<rect x="946.56" y="871.98" width="4.6" height="61.72" fill="#089981"/>
<rect x="952.72" y="864.39" width="4.6" height="69.31" fill="#089981"/>
<rect x="958.87" y="855.9" width="4.6" height="77.8" fill="#089981"/>
<rect x="965.03" y="853.03" width="4.6" height="80.67" fill="#089981"/>
<rect x="971.18" y="850.93" width="4.6" height="82.77" fill="#089981"/>
<rect x="977.34" y="849.11" width="4.6" height="84.59" fill="#089981"/>
<rect x="983.49" y="853.12" width="4.6" height="80.58" fill="#F44336"/>
<rect x="989.65" y="865.97" width="4.6" height="67.73" fill="#F44336"/>
<rect x="995.8" y="875.5" width="4.6" height="58.2" fill="#F44336"/>
<rect x="1001.96" y="884.95" width="4.6" height="48.75" fill="#F44336"/>
<rect x="1008.11" y="898.24" width="4.6" height="35.46" fill="#F44336"/>
<rect x="1014.27" y="904.33" width="4.6" height="29.37" fill="#F44336"/>
<rect x="1020.42" y="901.04" width="4.6" height="32.66" fill="#089981"/>
<rect x="1026.58" y="902.11" width="4.6" height="31.59" fill="#F44336"/>
<rect x="1032.73" y="906.88" width="4.6" height="26.82" fill="#F44336"/>
<rect x="1038.88" y="912.3" width="4.6" height="21.4" fill="#F44336"/>
<rect x="1045.04" y="916.5" width="4.6" height="17.2" fill="#F44336"/>
<rect x="1051.19" y="925.62" width="4.6" height="8.08" fill="#F44336"/>
<rect x="1057.35" y="929.91" width="4.6" height="3.79" fill="#F44336"/>
<rect x="1063.5" y="932.69" width="4.6" height="1.01" fill="#F44336"/>
<rect x="1069.66" y="933.7" width="4.6" height="1" fill="#F44336"/>
<rect x="1075.81" y="933.7" width="4.6" height="7.31" fill="#F44336"/>
<rect x="1081.97" y="933.7" width="4.6" height="21.05" fill="#F44336"/>
<rect x="1088.12" y="933.7" width="4.6" height="32.19" fill="#F44336"/>
<rect x="1094.28" y="933.7" width="4.6" height="42.44" fill="#F44336"/>
<rect x="1100.43" y="933.7" width="4.6" height="51.84" fill="#F44336"/>
<rect x="1106.59" y="933.7" width="4.6" height="58.43" fill="#F44336"/>
<rect x="1112.74" y="933.7" width="4.6" height="54.72" fill="#089981"/>
<rect x="1118.9" y="933.7" width="4.6" height="52.78" fill="#089981"/>
<rect x="1125.05" y="933.7" width="4.6" height="52.69" fill="#089981"/>
<rect x="1131.21" y="933.7" width="4.6" height="58.34" fill="#F44336"/>
<rect x="1137.36" y="933.7" width="4.6" height="64.34" fill="#F44336"/>
<rect x="1143.51" y="933.7" width="4.6" height="69.77" fill="#F44336"/>
<rect x="1149.67" y="933.7" width="4.6" height="78.89" fill="#F44336"/>
<rect x="1155.82" y="933.7" width="4.6" height="86.6" fill="#F44336"/>
<rect x="1161.98" y="933.7" width="4.6" height="87.59" fill="#F44336"/>
<rect x="1168.13" y="933.7" width="4.6" height="87.91" fill="#F44336"/>
<rect x="1174.29" y="933.7" width="4.6" height="87" fill="#089981"/>
<rect x="1180.44" y="933.7" width="4.6" height="82.01" fill="#089981"/>
<rect x="1186.6" y="933.7" width="4.6" height="74.66" fill="#089981"/>
<rect x="1192.75" y="933.7" width="4.6" height="71" fill="#089981"/>
<rect x="1198.91" y="933.7" width="4.6" height="69.21" fill="#089981"/>
<rect x="1205.06" y="933.7" width="4.6" height="70.46" fill="#F44336"/>
<rect x="1211.22" y="933.7" width="4.6" height="74.63" fill="#F44336"/>
<rect x="1217.37" y="933.7" width="4.6" height="77.06" fill="#F44336"/>
<rect x="1223.53" y="933.7" width="4.6" height="76.01" fill="#089981"/>
<rect x="1229.68" y="933.7" width="4.6" height="75.47" fill="#089981"/>
<rect x="1235.84" y="933.7" width="4.6" height="71.97" fill="#089981"/>
<rect x="1241.99" y="933.7" width="4.6" height="65.05" fill="#089981"/>
<rect x="1248.14" y="933.7" width="4.6" height="57.19" fill="#089981"/>
<rect x="1254.3" y="933.7" width="4.6" height="50.03" fill="#089981"/>
<rect x="1260.45" y="933.7" width="4.6" height="41.5" fill="#089981"/>
<rect x="1266.61" y="933.7" width="4.6" height="34.07" fill="#089981"/>
<rect x="1272.76" y="933.7" width="4.6" height="23.1" fill="#089981"/>
<rect x="1278.92" y="933.7" width="4.6" height="9.11" fill="#089981"/>
<rect x="1285.07" y="927.11" width="4.6" height="6.59" fill="#089981"/>
<rect x="1291.23" y="915.18" width="4.6" height="18.52" fill="#089981"/>
<rect x="1297.38" y="902.19" width="4.6" height="31.51" fill="#089981"/>
<rect x="1303.54" y="893.52" width="4.6" height="40.18" fill="#089981"/>
<rect x="1309.69" y="891.15" width="4.6" height="42.55" fill="#089981"/>
<rect x="1315.85" y="889.63" width="4.6" height="44.07" fill="#089981"/>
<rect x="1322" y="888.19" width="4.6" height="45.51" fill="#089981"/>
<rect x="1328.16" y="886.72" width="4.6" height="46.98" fill="#089981"/>
<rect x="1334.31" y="889.24" width="4.6" height="44.46" fill="#F44336"/>
<rect x="1340.47" y="888.81" width="4.6" height="44.89" fill="#089981"/>
<rect x="1346.62" y="890.41" width="4.6" height="43.29" fill="#F44336"/>
<rect x="1352.77" y="890.93" width="4.6" height="42.77" fill="#F44336"/>
<rect x="1358.93" y="893.37" width="4.6" height="40.33" fill="#F44336"/>
<rect x="1365.08" y="897.87" width="4.6" height="35.83" fill="#F44336"/>
<rect x="1371.24" y="903.47" width="4.6" height="30.23" fill="#F44336"/>
<rect x="1377.39" y="907.58" width="4.6" height="26.12" fill="#F44336"/>
<rect x="1383.55" y="910.2" width="4.6" height="23.5" fill="#F44336"/>
<rect x="1389.7" y="909.95" width="4.6" height="23.75" fill="#089981"/>
<rect x="1395.86" y="906.38" width="4.6" height="27.32" fill="#089981"/>
<rect x="1402.01" y="902.37" width="4.6" height="31.33" fill="#089981"/>
<rect x="1408.17" y="895.65" width="4.6" height="38.05" fill="#089981"/>
<rect x="1414.32" y="886.45" width="4.6" height="47.25" fill="#089981"/>
<rect x="1420.48" y="872.43" width="4.6" height="61.27" fill="#089981"/>
<rect x="1426.63" y="857.65" width="4.6" height="76.05" fill="#089981"/>
<rect x="1432.79" y="847.92" width="4.6" height="85.78" fill="#089981"/>
<rect x="1438.94" y="838.84" width="4.6" height="94.86" fill="#089981"/>
<rect x="1445.1" y="836.67" width="4.6" height="97.03" fill="#089981"/>
<rect x="1451.25" y="843.46" width="4.6" height="90.24" fill="#F44336"/>
<rect x="1457.4" y="847.84" width="4.6" height="85.86" fill="#F44336"/>
<rect x="1463.56" y="845.72" width="4.6" height="87.98" fill="#089981"/>
<rect x="1469.71" y="841.02" width="4.6" height="92.68" fill="#089981"/>
<rect x="1475.87" y="831.52" width="4.6" height="102.18" fill="#089981"/>
<rect x="1482.02" y="823.19" width="4.6" height="110.51" fill="#089981"/>
<rect x="1488.18" y="815.22" width="4.6" height="118.48" fill="#089981"/>
<rect x="1494.33" y="810.99" width="4.6" height="122.71" fill="#089981"/>
<rect x="1500.49" y="816.05" width="4.6" height="117.65" fill="#F44336"/>
<rect x="1506.64" y="824.76" width="4.6" height="108.94" fill="#F44336"/>
<rect x="1512.8" y="828.86" width="4.6" height="104.84" fill="#F44336"/>
<rect x="1518.95" y="835.62" width="4.6" height="98.08" fill="#F44336"/>
<rect x="1525.11" y="845.89" width="4.6" height="87.81" fill="#F44336"/>
<rect x="1531.26" y="850.72" width="4.6" height="82.98" fill="#F44336"/>
<rect x="1537.42" y="852" width="4.6" height="81.7" fill="#F44336"/>
<rect x="1543.57" y="854.22" width="4.6" height="79.48" fill="#F44336"/>
<rect x="1549.72" y="856.06" width="4.6" height="77.64" fill="#F44336"/>
<rect x="1555.88" y="861.69" width="4.6" height="72.01" fill="#F44336"/>
<rect x="1562.03" y="874.97" width="4.6" height="58.73" fill="#F44336"/>
<rect x="1568.19" y="888.54" width="4.6" height="45.16" fill="#F44336"/>
<rect x="1574.34" y="897.2" width="4.6" height="36.5" fill="#F44336"/>
<rect x="1580.5" y="901.74" width="4.6" height="31.96" fill="#F44336"/>
<rect x="1586.65" y="902.58" width="4.6" height="31.12" fill="#F44336"/>
<rect x="1592.81" y="907.15" width="4.6" height="26.55" fill="#F44336"/>
<rect x="1598.96" y="911.55" width="4.6" height="22.15" fill="#F44336"/>
<rect x="1605.12" y="923.71" width="4.6" height="9.99" fill="#F44336"/>
<rect x="1611.27" y="933.7" width="4.6" height="4.43" fill="#F44336"/>
<rect x="1617.43" y="933.7" width="4.6" height="18.44" fill="#F44336"/>
<rect x="1623.58" y="933.7" width="4.6" height="18.32" fill="#089981"/>
<rect x="1629.74" y="933.7" width="4.6" height="22.13" fill="#F44336"/>
<rect x="1635.89" y="933.7" width="4.6" height="23.02" fill="#F44336"/>
<rect x="1642.05" y="933.7" width="4.6" height="31.3" fill="#F44336"/>
<rect x="1648.2" y="933.7" width="4.6" height="39.58" fill="#F44336"/>
<rect x="1654.35" y="933.7" width="4.6" height="49.62" fill="#F44336"/>
<rect x="1660.51" y="933.7" width="4.6" height="59.81" fill="#F44336"/>
<rect x="1666.66" y="933.7" width="4.6" height="71.77" fill="#F44336"/>
<rect x="1672.82" y="933.7" width="4.6" height="77.92" fill="#F44336"/>
<rect x="1678.97" y="933.7" width="4.6" height="84" fill="#F44336"/>
<rect x="1685.13" y="933.7" width="4.6" height="90.46" fill="#F44336"/>
<rect x="1691.28" y="933.7" width="4.6" height="92.33" fill="#F44336"/>
<rect x="1697.44" y="933.7" width="4.6" height="92.04" fill="#089981"/>
<rect x="1703.59" y="933.7" width="4.6" height="85.42" fill="#089981"/>
<rect x="1709.75" y="933.7" width="4.6" height="76.26" fill="#089981"/>
<rect x="1715.9" y="933.7" width="4.6" height="66.38" fill="#089981"/>
<rect x="1722.06" y="933.7" width="4.6" height="61.13" fill="#089981"/>
<rect x="1728.21" y="933.7" width="4.6" height="55.69" fill="#089981"/>
<rect x="1734.37" y="933.7" width="4.6" height="55.9" fill="#F44336"/>
<rect x="1740.52" y="933.7" width="4.6" height="52.86" fill="#089981"/>
<rect x="1746.68" y="933.7" width="4.6" height="54.69" fill="#F44336"/>
<rect x="1752.83" y="933.7" width="4.6" height="53.55" fill="#089981"/>
<rect x="1758.98" y="933.7" width="4.6" height="49.66" fill="#089981"/>
<rect x="1765.14" y="933.7" width="4.6" height="43.53" fill="#089981"/>
<rect x="1771.29" y="933.7" width="4.6" height="37.37" fill="#089981"/>
<rect x="1777.45" y="933.7" width="4.6" height="30.71" fill="#089981"/>
<rect x="1783.6" y="933.7" width="4.6" height="24.98" fill="#089981"/>
<rect x="1789.76" y="933.7" width="4.6" height="16.35" fill="#089981"/>
<rect x="1795.91" y="933.7" width="4.6" height="8.54" fill="#089981"/>
</g>
</svg>

<div class="a leg" style="top:39.9px">Ethereum / U.S. Dollar · 3D · Coinbase</div>
<div class="a leg" style="top:39.9px;left:273.4px">O</div><div class="a leg g" style="top:39.9px;left:284.7px;letter-spacing:-0.25px;color:#089981">3,317.98</div>
<div class="a leg" style="top:39.9px;left:346.4px">H</div><div class="a leg g" style="top:39.9px;left:357px;letter-spacing:-0.25px;color:#089981">3,367.65</div>
<div class="a leg" style="top:39.9px;left:420.6px">L</div><div class="a leg g" style="top:39.9px;left:428.5px;letter-spacing:-0.25px;color:#089981">3,250.83</div>
<div class="a leg" style="top:39.9px;left:494.3px">C</div><div class="a leg g" style="top:39.9px;left:504.5px;letter-spacing:-0.25px;color:#089981">3,349.96</div>
<div class="a leg" style="top:39.9px;left:570.4px">Vol</div><div class="a leg g" style="top:39.9px;left:590.8px;letter-spacing:-0.1px;color:#089981">129.31&#8202;K</div>
<div class="a leg" style="top:59.4px">EMA (25, close)</div><div class="a leg" style="top:59.4px;left:131.6px;color:#2962FF">3,223.00</div>
<div class="a usd">USD</div>

<div class="a pl" style="top:110.2px">4,800.00</div>
<div class="a pl" style="top:163.3px">4,300.00</div>
<div class="a pl" style="top:210.3px">3,900.00</div>
<div class="a pl" style="top:321.1px">3,100.00</div>
<div class="a pl" style="top:387.7px">2,700.00</div>
<div class="a pl" style="top:444.5px">2,400.00</div>
<div class="a pl" style="top:508.9px">2,100.00</div>
<div class="a pl" style="top:557.2px">1,900.00</div>
<div class="a pl" style="top:610.8px">1,700.00</div>
<div class="a pl" style="top:658.5px">1,540.00</div>
<div class="a pl" style="top:704.5px">1,400.00</div>
<div class="a pl" style="top:755.3px">1,260.00</div>

<div class="a lbl" style="top:262.5px">3,487.68</div>
<div class="a lbl" style="top:402px">2,610.83</div>

<div class="a sep"></div>
<div class="a leg" style="top:793.7px">AO</div><div class="a leg" style="top:793.7px;left:48.4px;color:#089981">&minus;94.73</div>

<div class="a pl" style="top:832px">1,000.00</div>
<div class="a pl" style="top:924px">0.00</div>
<div class="a pl" style="top:1013px;left:1934px">&minus;1,000.00</div>

<div class="a tclip">
<div class="a tl" style="left:1px;top:9.4px">Sep</div>
<div class="a tl" style="left:130.5px;top:9.4px">Nov</div>
<div class="a tl y" style="left:253.5px;top:9.4px">2024</div>
<div class="a tl" style="left:376px;top:9.4px">Mar</div>
<div class="a tl" style="left:506px;top:9.4px">May</div>
<div class="a tl" style="left:629px;top:9.4px">Jul</div>
<div class="a tl" style="left:758px;top:9.4px">Sep</div>
<div class="a tl" style="left:881px;top:9.4px">Nov</div>
<div class="a tl y" style="left:1004.3px;top:9.4px">2025</div>
<div class="a tl" style="left:1127.5px;top:9.4px">Mar</div>
<div class="a tl" style="left:1250.8px;top:9.4px">May</div>
<div class="a tl" style="left:1380px;top:9.4px">Jul</div>
<div class="a tl" style="left:1502.8px;top:9.4px">Sep</div>
<div class="a tl" style="left:1632.3px;top:9.4px">Nov</div>
<div class="a tl y" style="left:1755.3px;top:9.4px">2026</div>
</div>
<div class="a tl" style="left:1890.3px;top:1059.4px">Mar</div>

<svg class="a" style="left:0;top:1100px" width="60" height="40" viewBox="0 1100 60 40"><path d="M13.9 1115.2H27.3V1132.4H20.9V1121.8H13.9Z" fill="#0a0a0a"/><circle cx="33.2" cy="1118.8" r="3.3" fill="#0a0a0a"/><path d="M40.2 1115.3H47.8L41.3 1132.4H33.7Z" fill="#0a0a0a"/></svg>
<div class="a" style="left:56px;top:1111px;font-weight:bold;font-size:23.5px;line-height:28px;color:#0a0a0a;letter-spacing:0px">TradingView</div>
</body></html>
